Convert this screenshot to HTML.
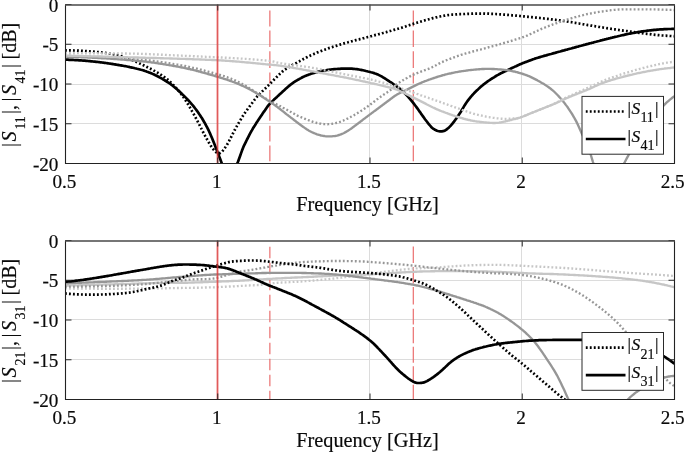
<!DOCTYPE html>
<html lang="en"><head><meta charset="utf-8"><title>S-parameters</title>
<style>
html,body{margin:0;padding:0;background:#fff}
body{width:685px;height:452px;overflow:hidden}
svg{display:block}
text{font-family:"Liberation Serif","Times New Roman",serif;fill:#0a0a0a;stroke:#0a0a0a;stroke-width:0.18px}
.tk{font-size:17.9px}
.xl{font-size:20.3px}
.yl{font-size:20px}
.lg{font-size:17.4px}
.it{font-style:italic}
.sb{font-size:14px}
.sb2{font-size:14px}
</style></head><body>
<svg width="685" height="452" viewBox="0 0 685 452">
<rect width="685" height="452" fill="#fff"/>
<clipPath id="c1"><rect x="65.5" y="4.5" width="609.0" height="159.0"/></clipPath>
<rect x="65.5" y="4.5" width="609.0" height="159.0" fill="#fff"/>
<path d="M65.5 44.50H674.5M65.5 84.50H674.5M65.5 123.50H674.5M217.50 4.5V163.5M369.50 4.5V163.5M521.50 4.5V163.5" stroke="#dcdcdc" stroke-width="1" fill="none"/>
<g clip-path="url(#c1)">
<path d="M269.87 10.6V26.5M269.87 30.4V46.9M269.87 51.3V68.1M269.87 72.4V83.5M269.87 90.0V120.7M269.87 125.7V141.4M269.87 145.6V161.3" stroke="#e96868" stroke-width="1.15" fill="none"/>
<path d="M413.29 10.6V26.5M413.29 30.4V46.9M413.29 51.3V68.1M413.29 72.4V83.5M413.29 90.0V120.7M413.29 125.7V141.4M413.29 145.6V161.3" stroke="#e96868" stroke-width="1.15" fill="none"/>
<path d="M65.0 59.6 L66.0 59.6 L67.0 59.7 L68.0 59.7 L69.0 59.8 L70.0 59.8 L71.0 59.8 L72.0 59.9 L73.0 59.9 L74.0 60.0 L75.0 60.1 L76.0 60.1 L77.0 60.2 L78.0 60.2 L79.0 60.3 L80.0 60.4 L81.0 60.4 L82.0 60.5 L83.0 60.6 L84.0 60.7 L85.0 60.7 L86.0 60.8 L87.0 60.9 L88.0 61.0 L89.0 61.1 L90.0 61.2 L91.0 61.3 L92.0 61.4 L93.0 61.5 L94.0 61.6 L95.0 61.7 L96.0 61.8 L97.0 61.9 L98.0 62.0 L99.0 62.1 L100.0 62.3 L101.0 62.4 L102.0 62.5 L103.0 62.6 L104.0 62.8 L105.0 62.9 L106.0 63.0 L107.0 63.2 L108.0 63.3 L109.0 63.5 L110.0 63.6 L111.0 63.8 L112.0 63.9 L113.0 64.1 L114.0 64.3 L115.0 64.4 L116.0 64.6 L117.0 64.8 L118.0 64.9 L119.0 65.1 L120.0 65.3 L121.0 65.4 L122.0 65.6 L123.0 65.8 L124.0 66.0 L125.0 66.1 L126.0 66.3 L127.0 66.5 L128.0 66.7 L129.0 66.9 L130.0 67.2 L131.0 67.4 L132.0 67.6 L133.0 67.8 L134.0 68.0 L135.0 68.3 L136.0 68.5 L137.0 68.8 L138.0 69.0 L139.0 69.2 L140.0 69.5 L141.0 69.8 L142.0 70.0 L143.0 70.3 L144.0 70.6 L145.0 71.0 L146.0 71.3 L147.0 71.7 L148.0 72.0 L149.0 72.4 L150.0 72.8 L151.0 73.2 L152.0 73.6 L153.0 74.1 L154.0 74.5 L155.0 75.0 L156.0 75.5 L157.0 76.0 L158.0 76.5 L159.0 77.0 L160.0 77.6 L161.0 78.1 L162.0 78.7 L163.0 79.3 L164.0 79.9 L165.0 80.5 L166.0 81.1 L167.0 81.8 L168.0 82.4 L169.0 83.0 L170.0 83.7 L171.0 84.4 L172.0 85.2 L173.0 85.9 L174.0 86.8 L175.0 87.6 L176.0 88.5 L177.0 89.3 L178.0 90.2 L179.0 91.2 L180.0 92.1 L181.0 93.0 L182.0 94.0 L183.0 94.9 L184.0 95.9 L185.0 96.9 L186.0 97.9 L187.0 98.9 L188.0 100.0 L189.0 101.0 L190.0 102.2 L191.0 103.3 L192.0 104.5 L193.0 105.7 L194.0 106.9 L195.0 108.2 L196.0 109.5 L197.0 110.9 L198.0 112.3 L199.0 113.8 L200.0 115.2 L201.0 116.8 L202.0 118.3 L203.0 120.0 L204.0 121.7 L205.0 123.4 L206.0 125.3 L207.0 127.2 L208.0 129.2 L209.0 131.2 L210.0 133.4 L211.0 135.7 L212.0 138.1 L213.0 140.6 L214.0 143.1 L215.0 145.6 L216.0 148.2 L217.0 150.7 L218.0 153.3 L219.0 156.0 L220.0 158.6 L221.0 161.3 L222.0 163.9 L223.0 166.2 L224.0 168.1 L225.0 169.7 L226.0 170.9 L227.0 171.7 L228.0 172.3 L229.0 172.6 L230.0 172.6 L231.0 172.3 L232.0 171.6 L233.0 170.7 L234.0 169.5 L235.0 168.0 L236.0 166.1 L237.0 164.1 L238.0 161.7 L239.0 159.0 L240.0 156.2 L241.0 153.4 L242.0 150.6 L243.0 148.0 L244.0 145.6 L245.0 143.6 L246.0 141.6 L247.0 139.5 L248.0 137.6 L249.0 135.6 L250.0 133.7 L251.0 131.8 L252.0 130.1 L253.0 128.3 L254.0 126.7 L255.0 125.2 L256.0 123.6 L257.0 122.1 L258.0 120.5 L259.0 119.0 L260.0 117.5 L261.0 116.0 L262.0 114.6 L263.0 113.1 L264.0 111.6 L265.0 110.2 L266.0 108.7 L267.0 107.3 L268.0 105.9 L269.0 104.7 L270.0 103.6 L271.0 102.6 L272.0 101.6 L273.0 100.6 L274.0 99.6 L275.0 98.7 L276.0 97.8 L277.0 96.9 L278.0 95.9 L279.0 95.0 L280.0 94.1 L281.0 93.2 L282.0 92.3 L283.0 91.3 L284.0 90.4 L285.0 89.5 L286.0 88.6 L287.0 87.7 L288.0 86.8 L289.0 85.9 L290.0 85.1 L291.0 84.3 L292.0 83.6 L293.0 82.9 L294.0 82.2 L295.0 81.5 L296.0 80.9 L297.0 80.3 L298.0 79.7 L299.0 79.2 L300.0 78.6 L301.0 78.1 L302.0 77.5 L303.0 77.0 L304.0 76.6 L305.0 76.1 L306.0 75.7 L307.0 75.3 L308.0 74.9 L309.0 74.5 L310.0 74.2 L311.0 73.8 L312.0 73.5 L313.0 73.2 L314.0 72.9 L315.0 72.6 L316.0 72.3 L317.0 72.1 L318.0 71.8 L319.0 71.6 L320.0 71.4 L321.0 71.1 L322.0 70.9 L323.0 70.7 L324.0 70.5 L325.0 70.4 L326.0 70.2 L327.0 70.0 L328.0 69.9 L329.0 69.8 L330.0 69.6 L331.0 69.5 L332.0 69.4 L333.0 69.3 L334.0 69.2 L335.0 69.1 L336.0 69.0 L337.0 69.0 L338.0 68.9 L339.0 68.8 L340.0 68.8 L341.0 68.7 L342.0 68.7 L343.0 68.7 L344.0 68.6 L345.0 68.6 L346.0 68.6 L347.0 68.6 L348.0 68.6 L349.0 68.6 L350.0 68.6 L351.0 68.7 L352.0 68.7 L353.0 68.8 L354.0 68.9 L355.0 69.0 L356.0 69.1 L357.0 69.2 L358.0 69.3 L359.0 69.5 L360.0 69.7 L361.0 69.9 L362.0 70.1 L363.0 70.3 L364.0 70.5 L365.0 70.7 L366.0 71.0 L367.0 71.2 L368.0 71.5 L369.0 71.7 L370.0 72.0 L371.0 72.3 L372.0 72.5 L373.0 72.8 L374.0 73.1 L375.0 73.5 L376.0 73.8 L377.0 74.2 L378.0 74.6 L379.0 75.1 L380.0 75.6 L381.0 76.1 L382.0 76.7 L383.0 77.3 L384.0 77.9 L385.0 78.5 L386.0 79.2 L387.0 79.8 L388.0 80.5 L389.0 81.1 L390.0 81.8 L391.0 82.4 L392.0 83.1 L393.0 83.8 L394.0 84.5 L395.0 85.2 L396.0 85.9 L397.0 86.6 L398.0 87.3 L399.0 88.1 L400.0 88.9 L401.0 89.8 L402.0 90.7 L403.0 91.6 L404.0 92.6 L405.0 93.6 L406.0 94.6 L407.0 95.6 L408.0 96.7 L409.0 97.8 L410.0 99.0 L411.0 100.1 L412.0 101.4 L413.0 102.6 L414.0 103.9 L415.0 105.2 L416.0 106.5 L417.0 107.9 L418.0 109.3 L419.0 110.7 L420.0 112.1 L421.0 113.6 L422.0 115.0 L423.0 116.4 L424.0 117.8 L425.0 119.2 L426.0 120.5 L427.0 121.8 L428.0 123.1 L429.0 124.3 L430.0 125.5 L431.0 126.7 L432.0 127.7 L433.0 128.6 L434.0 129.2 L435.0 129.8 L436.0 130.2 L437.0 130.7 L438.0 131.0 L439.0 131.2 L440.0 131.4 L441.0 131.4 L442.0 131.3 L443.0 131.2 L444.0 130.9 L445.0 130.5 L446.0 129.9 L447.0 129.1 L448.0 128.3 L449.0 127.4 L450.0 126.4 L451.0 125.3 L452.0 124.2 L453.0 122.9 L454.0 121.6 L455.0 120.2 L456.0 118.9 L457.0 117.5 L458.0 116.1 L459.0 114.6 L460.0 113.1 L461.0 111.5 L462.0 109.8 L463.0 108.1 L464.0 106.4 L465.0 104.8 L466.0 103.2 L467.0 101.8 L468.0 100.4 L469.0 99.1 L470.0 97.9 L471.0 96.7 L472.0 95.5 L473.0 94.4 L474.0 93.3 L475.0 92.3 L476.0 91.3 L477.0 90.3 L478.0 89.4 L479.0 88.4 L480.0 87.5 L481.0 86.6 L482.0 85.8 L483.0 84.9 L484.0 84.2 L485.0 83.4 L486.0 82.7 L487.0 81.9 L488.0 81.2 L489.0 80.5 L490.0 79.8 L491.0 79.1 L492.0 78.5 L493.0 77.9 L494.0 77.3 L495.0 76.6 L496.0 76.0 L497.0 75.4 L498.0 74.9 L499.0 74.3 L500.0 73.8 L501.0 73.2 L502.0 72.8 L503.0 72.3 L504.0 71.8 L505.0 71.3 L506.0 70.9 L507.0 70.4 L508.0 69.9 L509.0 69.4 L510.0 69.0 L511.0 68.5 L512.0 68.0 L513.0 67.6 L514.0 67.1 L515.0 66.6 L516.0 66.2 L517.0 65.7 L518.0 65.2 L519.0 64.8 L520.0 64.3 L521.0 63.9 L522.0 63.5 L523.0 63.1 L524.0 62.7 L525.0 62.3 L526.0 61.9 L527.0 61.6 L528.0 61.2 L529.0 60.8 L530.0 60.4 L531.0 60.1 L532.0 59.7 L533.0 59.3 L534.0 59.0 L535.0 58.6 L536.0 58.3 L537.0 58.0 L538.0 57.7 L539.0 57.4 L540.0 57.1 L541.0 56.8 L542.0 56.5 L543.0 56.2 L544.0 55.9 L545.0 55.6 L546.0 55.4 L547.0 55.1 L548.0 54.8 L549.0 54.5 L550.0 54.2 L551.0 54.0 L552.0 53.7 L553.0 53.4 L554.0 53.1 L555.0 52.9 L556.0 52.6 L557.0 52.3 L558.0 52.0 L559.0 51.7 L560.0 51.5 L561.0 51.2 L562.0 50.9 L563.0 50.6 L564.0 50.4 L565.0 50.1 L566.0 49.8 L567.0 49.6 L568.0 49.3 L569.0 49.0 L570.0 48.7 L571.0 48.5 L572.0 48.2 L573.0 47.9 L574.0 47.7 L575.0 47.4 L576.0 47.1 L577.0 46.8 L578.0 46.6 L579.0 46.3 L580.0 46.0 L581.0 45.8 L582.0 45.5 L583.0 45.2 L584.0 44.9 L585.0 44.7 L586.0 44.4 L587.0 44.1 L588.0 43.9 L589.0 43.6 L590.0 43.3 L591.0 43.1 L592.0 42.8 L593.0 42.6 L594.0 42.3 L595.0 42.0 L596.0 41.8 L597.0 41.5 L598.0 41.2 L599.0 41.0 L600.0 40.7 L601.0 40.4 L602.0 40.2 L603.0 39.9 L604.0 39.7 L605.0 39.4 L606.0 39.2 L607.0 38.9 L608.0 38.7 L609.0 38.4 L610.0 38.2 L611.0 37.9 L612.0 37.7 L613.0 37.4 L614.0 37.2 L615.0 36.9 L616.0 36.7 L617.0 36.5 L618.0 36.2 L619.0 36.0 L620.0 35.8 L621.0 35.5 L622.0 35.3 L623.0 35.1 L624.0 34.9 L625.0 34.6 L626.0 34.4 L627.0 34.2 L628.0 34.0 L629.0 33.8 L630.0 33.6 L631.0 33.4 L632.0 33.2 L633.0 33.0 L634.0 32.8 L635.0 32.7 L636.0 32.5 L637.0 32.3 L638.0 32.1 L639.0 31.9 L640.0 31.8 L641.0 31.6 L642.0 31.4 L643.0 31.3 L644.0 31.2 L645.0 31.0 L646.0 30.9 L647.0 30.7 L648.0 30.6 L649.0 30.5 L650.0 30.4 L651.0 30.3 L652.0 30.2 L653.0 30.1 L654.0 29.9 L655.0 29.9 L656.0 29.8 L657.0 29.7 L658.0 29.6 L659.0 29.5 L660.0 29.4 L661.0 29.4 L662.0 29.3 L663.0 29.3 L664.0 29.2 L665.0 29.2 L666.0 29.1 L667.0 29.1 L668.0 29.0 L669.0 29.0 L670.0 29.0 L671.0 29.0 L672.0 28.9 L673.0 28.9 L674.0 28.9 L674.5 28.9" fill="none" stroke="#000" stroke-width="2.7" stroke-linejoin="round"/>
<path d="M65.0 50.4 L66.0 50.4 L67.0 50.4 L68.0 50.4 L69.0 50.4 L70.0 50.4 L71.0 50.4 L72.0 50.4 L73.0 50.4 L74.0 50.5 L75.0 50.5 L76.0 50.5 L77.0 50.6 L78.0 50.6 L79.0 50.7 L80.0 50.7 L81.0 50.8 L82.0 50.8 L83.0 50.9 L84.0 50.9 L85.0 51.0 L86.0 51.1 L87.0 51.2 L88.0 51.2 L89.0 51.3 L90.0 51.4 L91.0 51.5 L92.0 51.5 L93.0 51.6 L94.0 51.7 L95.0 51.8 L96.0 51.9 L97.0 52.0 L98.0 52.1 L99.0 52.2 L100.0 52.3 L101.0 52.4 L102.0 52.5 L103.0 52.6 L104.0 52.8 L105.0 52.9 L106.0 53.0 L107.0 53.2 L108.0 53.3 L109.0 53.5 L110.0 53.6 L111.0 53.8 L112.0 54.0 L113.0 54.2 L114.0 54.4 L115.0 54.6 L116.0 54.8 L117.0 55.0 L118.0 55.3 L119.0 55.6 L120.0 55.8 L121.0 56.1 L122.0 56.4 L123.0 56.7 L124.0 57.0 L125.0 57.4 L126.0 57.7 L127.0 58.1 L128.0 58.5 L129.0 58.9 L130.0 59.2 L131.0 59.7 L132.0 60.1 L133.0 60.5 L134.0 60.9 L135.0 61.4 L136.0 61.8 L137.0 62.2 L138.0 62.7 L139.0 63.1 L140.0 63.6 L141.0 64.1 L142.0 64.5 L143.0 65.0 L144.0 65.5 L145.0 66.0 L146.0 66.5 L147.0 67.0 L148.0 67.5 L149.0 68.0 L150.0 68.5 L151.0 69.0 L152.0 69.5 L153.0 70.0 L154.0 70.6 L155.0 71.1 L156.0 71.7 L157.0 72.3 L158.0 72.9 L159.0 73.5 L160.0 74.2 L161.0 74.8 L162.0 75.5 L163.0 76.2 L164.0 76.9 L165.0 77.6 L166.0 78.4 L167.0 79.1 L168.0 79.9 L169.0 80.7 L170.0 81.6 L171.0 82.6 L172.0 83.5 L173.0 84.6 L174.0 85.6 L175.0 86.7 L176.0 87.8 L177.0 88.9 L178.0 90.0 L179.0 91.2 L180.0 92.4 L181.0 93.7 L182.0 95.0 L183.0 96.4 L184.0 97.9 L185.0 99.4 L186.0 101.0 L187.0 102.6 L188.0 104.2 L189.0 105.9 L190.0 107.6 L191.0 109.3 L192.0 111.1 L193.0 112.8 L194.0 114.6 L195.0 116.4 L196.0 118.3 L197.0 120.2 L198.0 122.1 L199.0 124.0 L200.0 126.0 L201.0 128.0 L202.0 129.9 L203.0 131.9 L204.0 133.8 L205.0 135.7 L206.0 137.5 L207.0 139.3 L208.0 141.0 L209.0 142.8 L210.0 144.5 L211.0 146.1 L212.0 147.6 L213.0 148.9 L214.0 150.0 L215.0 151.1 L216.0 152.1 L217.0 152.9 L218.0 153.3 L219.0 153.4 L220.0 153.1 L221.0 152.5 L222.0 151.7 L223.0 150.5 L224.0 149.2 L225.0 147.8 L226.0 146.4 L227.0 144.8 L228.0 143.0 L229.0 141.2 L230.0 139.2 L231.0 137.3 L232.0 135.3 L233.0 133.3 L234.0 131.4 L235.0 129.5 L236.0 127.7 L237.0 125.9 L238.0 124.1 L239.0 122.4 L240.0 120.6 L241.0 119.0 L242.0 117.3 L243.0 115.8 L244.0 114.3 L245.0 112.8 L246.0 111.4 L247.0 110.0 L248.0 108.6 L249.0 107.2 L250.0 105.9 L251.0 104.5 L252.0 103.2 L253.0 101.9 L254.0 100.5 L255.0 99.2 L256.0 97.9 L257.0 96.7 L258.0 95.6 L259.0 94.6 L260.0 93.6 L261.0 92.6 L262.0 91.6 L263.0 90.6 L264.0 89.6 L265.0 88.7 L266.0 87.7 L267.0 86.7 L268.0 85.8 L269.0 84.8 L270.0 83.8 L271.0 82.8 L272.0 81.8 L273.0 80.7 L274.0 79.7 L275.0 78.7 L276.0 77.7 L277.0 76.7 L278.0 75.7 L279.0 74.7 L280.0 73.7 L281.0 72.8 L282.0 71.9 L283.0 71.1 L284.0 70.3 L285.0 69.6 L286.0 68.9 L287.0 68.2 L288.0 67.6 L289.0 67.0 L290.0 66.4 L291.0 65.8 L292.0 65.2 L293.0 64.7 L294.0 64.2 L295.0 63.6 L296.0 63.1 L297.0 62.6 L298.0 62.0 L299.0 61.5 L300.0 60.9 L301.0 60.4 L302.0 59.9 L303.0 59.3 L304.0 58.8 L305.0 58.3 L306.0 57.7 L307.0 57.2 L308.0 56.7 L309.0 56.2 L310.0 55.7 L311.0 55.2 L312.0 54.8 L313.0 54.3 L314.0 53.9 L315.0 53.5 L316.0 53.1 L317.0 52.6 L318.0 52.2 L319.0 51.8 L320.0 51.5 L321.0 51.1 L322.0 50.7 L323.0 50.3 L324.0 49.9 L325.0 49.6 L326.0 49.2 L327.0 48.8 L328.0 48.5 L329.0 48.1 L330.0 47.8 L331.0 47.5 L332.0 47.2 L333.0 46.8 L334.0 46.5 L335.0 46.2 L336.0 45.9 L337.0 45.6 L338.0 45.3 L339.0 44.9 L340.0 44.6 L341.0 44.3 L342.0 44.0 L343.0 43.7 L344.0 43.4 L345.0 43.1 L346.0 42.8 L347.0 42.5 L348.0 42.3 L349.0 42.0 L350.0 41.7 L351.0 41.4 L352.0 41.2 L353.0 40.9 L354.0 40.7 L355.0 40.4 L356.0 40.1 L357.0 39.9 L358.0 39.6 L359.0 39.4 L360.0 39.1 L361.0 38.9 L362.0 38.6 L363.0 38.3 L364.0 38.1 L365.0 37.8 L366.0 37.6 L367.0 37.3 L368.0 37.0 L369.0 36.8 L370.0 36.5 L371.0 36.2 L372.0 36.0 L373.0 35.7 L374.0 35.4 L375.0 35.1 L376.0 34.9 L377.0 34.6 L378.0 34.3 L379.0 34.1 L380.0 33.8 L381.0 33.5 L382.0 33.2 L383.0 33.0 L384.0 32.7 L385.0 32.4 L386.0 32.2 L387.0 31.9 L388.0 31.6 L389.0 31.3 L390.0 31.0 L391.0 30.8 L392.0 30.5 L393.0 30.2 L394.0 29.9 L395.0 29.6 L396.0 29.3 L397.0 29.1 L398.0 28.8 L399.0 28.5 L400.0 28.2 L401.0 27.9 L402.0 27.6 L403.0 27.2 L404.0 26.9 L405.0 26.6 L406.0 26.3 L407.0 25.9 L408.0 25.6 L409.0 25.3 L410.0 24.9 L411.0 24.6 L412.0 24.3 L413.0 24.0 L414.0 23.6 L415.0 23.3 L416.0 23.0 L417.0 22.7 L418.0 22.4 L419.0 22.1 L420.0 21.8 L421.0 21.5 L422.0 21.2 L423.0 20.9 L424.0 20.6 L425.0 20.3 L426.0 20.0 L427.0 19.8 L428.0 19.5 L429.0 19.2 L430.0 18.9 L431.0 18.7 L432.0 18.4 L433.0 18.1 L434.0 17.9 L435.0 17.7 L436.0 17.4 L437.0 17.2 L438.0 16.9 L439.0 16.7 L440.0 16.5 L441.0 16.3 L442.0 16.1 L443.0 15.9 L444.0 15.7 L445.0 15.6 L446.0 15.4 L447.0 15.3 L448.0 15.1 L449.0 15.0 L450.0 14.9 L451.0 14.8 L452.0 14.7 L453.0 14.6 L454.0 14.6 L455.0 14.5 L456.0 14.4 L457.0 14.4 L458.0 14.3 L459.0 14.2 L460.0 14.2 L461.0 14.1 L462.0 14.1 L463.0 14.0 L464.0 14.0 L465.0 14.0 L466.0 13.9 L467.0 13.9 L468.0 13.8 L469.0 13.8 L470.0 13.8 L471.0 13.7 L472.0 13.7 L473.0 13.7 L474.0 13.6 L475.0 13.6 L476.0 13.6 L477.0 13.6 L478.0 13.6 L479.0 13.6 L480.0 13.6 L481.0 13.6 L482.0 13.6 L483.0 13.6 L484.0 13.6 L485.0 13.6 L486.0 13.7 L487.0 13.7 L488.0 13.7 L489.0 13.7 L490.0 13.8 L491.0 13.8 L492.0 13.8 L493.0 13.9 L494.0 13.9 L495.0 14.0 L496.0 14.0 L497.0 14.1 L498.0 14.1 L499.0 14.2 L500.0 14.3 L501.0 14.4 L502.0 14.4 L503.0 14.5 L504.0 14.6 L505.0 14.7 L506.0 14.7 L507.0 14.8 L508.0 14.9 L509.0 15.0 L510.0 15.1 L511.0 15.2 L512.0 15.3 L513.0 15.3 L514.0 15.4 L515.0 15.5 L516.0 15.6 L517.0 15.7 L518.0 15.8 L519.0 15.9 L520.0 16.0 L521.0 16.1 L522.0 16.2 L523.0 16.3 L524.0 16.4 L525.0 16.5 L526.0 16.6 L527.0 16.7 L528.0 16.8 L529.0 16.9 L530.0 17.0 L531.0 17.1 L532.0 17.2 L533.0 17.3 L534.0 17.4 L535.0 17.5 L536.0 17.6 L537.0 17.7 L538.0 17.8 L539.0 17.9 L540.0 18.0 L541.0 18.1 L542.0 18.2 L543.0 18.3 L544.0 18.5 L545.0 18.6 L546.0 18.7 L547.0 18.8 L548.0 18.9 L549.0 19.0 L550.0 19.1 L551.0 19.3 L552.0 19.4 L553.0 19.5 L554.0 19.6 L555.0 19.7 L556.0 19.9 L557.0 20.0 L558.0 20.1 L559.0 20.3 L560.0 20.4 L561.0 20.6 L562.0 20.7 L563.0 20.9 L564.0 21.0 L565.0 21.2 L566.0 21.3 L567.0 21.5 L568.0 21.6 L569.0 21.8 L570.0 22.0 L571.0 22.1 L572.0 22.3 L573.0 22.5 L574.0 22.7 L575.0 22.8 L576.0 23.0 L577.0 23.2 L578.0 23.4 L579.0 23.5 L580.0 23.7 L581.0 23.9 L582.0 24.0 L583.0 24.2 L584.0 24.4 L585.0 24.6 L586.0 24.7 L587.0 24.9 L588.0 25.1 L589.0 25.2 L590.0 25.4 L591.0 25.6 L592.0 25.7 L593.0 25.9 L594.0 26.1 L595.0 26.2 L596.0 26.4 L597.0 26.5 L598.0 26.7 L599.0 26.9 L600.0 27.0 L601.0 27.2 L602.0 27.4 L603.0 27.5 L604.0 27.7 L605.0 27.8 L606.0 28.0 L607.0 28.2 L608.0 28.3 L609.0 28.5 L610.0 28.6 L611.0 28.8 L612.0 28.9 L613.0 29.1 L614.0 29.3 L615.0 29.4 L616.0 29.6 L617.0 29.7 L618.0 29.9 L619.0 30.0 L620.0 30.2 L621.0 30.3 L622.0 30.4 L623.0 30.6 L624.0 30.7 L625.0 30.9 L626.0 31.0 L627.0 31.1 L628.0 31.3 L629.0 31.4 L630.0 31.6 L631.0 31.7 L632.0 31.8 L633.0 32.0 L634.0 32.1 L635.0 32.3 L636.0 32.4 L637.0 32.5 L638.0 32.7 L639.0 32.8 L640.0 32.9 L641.0 33.1 L642.0 33.2 L643.0 33.3 L644.0 33.5 L645.0 33.6 L646.0 33.7 L647.0 33.9 L648.0 34.0 L649.0 34.1 L650.0 34.2 L651.0 34.3 L652.0 34.5 L653.0 34.6 L654.0 34.7 L655.0 34.8 L656.0 34.9 L657.0 35.0 L658.0 35.1 L659.0 35.2 L660.0 35.3 L661.0 35.4 L662.0 35.5 L663.0 35.5 L664.0 35.6 L665.0 35.7 L666.0 35.7 L667.0 35.8 L668.0 35.9 L669.0 35.9 L670.0 36.0 L671.0 36.0 L672.0 36.1 L673.0 36.1 L674.0 36.2 L674.5 36.2" fill="none" stroke="#000" stroke-width="2.7" stroke-dasharray="1.85 2.15" stroke-linejoin="round"/>
<path d="M65.0 56.6 L66.0 56.6 L67.0 56.7 L68.0 56.7 L69.0 56.7 L70.0 56.7 L71.0 56.8 L72.0 56.8 L73.0 56.9 L74.0 56.9 L75.0 56.9 L76.0 57.0 L77.0 57.0 L78.0 57.0 L79.0 57.1 L80.0 57.1 L81.0 57.2 L82.0 57.2 L83.0 57.3 L84.0 57.3 L85.0 57.4 L86.0 57.4 L87.0 57.4 L88.0 57.5 L89.0 57.5 L90.0 57.6 L91.0 57.6 L92.0 57.7 L93.0 57.7 L94.0 57.8 L95.0 57.8 L96.0 57.9 L97.0 57.9 L98.0 58.0 L99.0 58.0 L100.0 58.1 L101.0 58.2 L102.0 58.2 L103.0 58.3 L104.0 58.3 L105.0 58.4 L106.0 58.4 L107.0 58.5 L108.0 58.6 L109.0 58.6 L110.0 58.7 L111.0 58.8 L112.0 58.8 L113.0 58.9 L114.0 59.0 L115.0 59.0 L116.0 59.1 L117.0 59.2 L118.0 59.3 L119.0 59.3 L120.0 59.4 L121.0 59.5 L122.0 59.6 L123.0 59.6 L124.0 59.7 L125.0 59.8 L126.0 59.9 L127.0 60.0 L128.0 60.0 L129.0 60.1 L130.0 60.2 L131.0 60.3 L132.0 60.4 L133.0 60.5 L134.0 60.6 L135.0 60.6 L136.0 60.7 L137.0 60.8 L138.0 60.9 L139.0 61.0 L140.0 61.1 L141.0 61.2 L142.0 61.3 L143.0 61.4 L144.0 61.5 L145.0 61.6 L146.0 61.7 L147.0 61.8 L148.0 62.0 L149.0 62.1 L150.0 62.2 L151.0 62.3 L152.0 62.5 L153.0 62.6 L154.0 62.7 L155.0 62.9 L156.0 63.0 L157.0 63.2 L158.0 63.3 L159.0 63.5 L160.0 63.6 L161.0 63.8 L162.0 63.9 L163.0 64.1 L164.0 64.3 L165.0 64.4 L166.0 64.6 L167.0 64.8 L168.0 64.9 L169.0 65.1 L170.0 65.3 L171.0 65.4 L172.0 65.6 L173.0 65.8 L174.0 66.0 L175.0 66.2 L176.0 66.4 L177.0 66.5 L178.0 66.7 L179.0 66.9 L180.0 67.1 L181.0 67.3 L182.0 67.5 L183.0 67.7 L184.0 67.9 L185.0 68.1 L186.0 68.3 L187.0 68.5 L188.0 68.8 L189.0 69.0 L190.0 69.2 L191.0 69.5 L192.0 69.7 L193.0 69.9 L194.0 70.2 L195.0 70.4 L196.0 70.7 L197.0 71.0 L198.0 71.2 L199.0 71.5 L200.0 71.7 L201.0 72.0 L202.0 72.3 L203.0 72.6 L204.0 72.8 L205.0 73.1 L206.0 73.4 L207.0 73.7 L208.0 74.0 L209.0 74.3 L210.0 74.5 L211.0 74.8 L212.0 75.1 L213.0 75.4 L214.0 75.7 L215.0 76.0 L216.0 76.3 L217.0 76.6 L218.0 76.9 L219.0 77.2 L220.0 77.5 L221.0 77.8 L222.0 78.1 L223.0 78.4 L224.0 78.8 L225.0 79.1 L226.0 79.4 L227.0 79.7 L228.0 80.1 L229.0 80.4 L230.0 80.8 L231.0 81.1 L232.0 81.5 L233.0 81.9 L234.0 82.2 L235.0 82.6 L236.0 83.0 L237.0 83.4 L238.0 83.8 L239.0 84.2 L240.0 84.7 L241.0 85.1 L242.0 85.6 L243.0 86.0 L244.0 86.5 L245.0 86.9 L246.0 87.4 L247.0 87.9 L248.0 88.4 L249.0 88.9 L250.0 89.5 L251.0 90.0 L252.0 90.6 L253.0 91.1 L254.0 91.7 L255.0 92.3 L256.0 92.9 L257.0 93.5 L258.0 94.1 L259.0 94.7 L260.0 95.3 L261.0 95.9 L262.0 96.6 L263.0 97.2 L264.0 97.9 L265.0 98.5 L266.0 99.2 L267.0 99.9 L268.0 100.5 L269.0 101.2 L270.0 101.9 L271.0 102.6 L272.0 103.3 L273.0 103.9 L274.0 104.6 L275.0 105.3 L276.0 106.0 L277.0 106.7 L278.0 107.5 L279.0 108.3 L280.0 109.0 L281.0 109.8 L282.0 110.6 L283.0 111.4 L284.0 112.2 L285.0 113.0 L286.0 113.8 L287.0 114.6 L288.0 115.3 L289.0 116.1 L290.0 116.9 L291.0 117.7 L292.0 118.4 L293.0 119.2 L294.0 120.0 L295.0 120.7 L296.0 121.5 L297.0 122.3 L298.0 123.0 L299.0 123.8 L300.0 124.5 L301.0 125.3 L302.0 126.0 L303.0 126.7 L304.0 127.4 L305.0 128.1 L306.0 128.8 L307.0 129.5 L308.0 130.1 L309.0 130.7 L310.0 131.2 L311.0 131.7 L312.0 132.2 L313.0 132.7 L314.0 133.1 L315.0 133.5 L316.0 133.9 L317.0 134.3 L318.0 134.6 L319.0 134.9 L320.0 135.2 L321.0 135.5 L322.0 135.7 L323.0 135.9 L324.0 136.0 L325.0 136.2 L326.0 136.3 L327.0 136.3 L328.0 136.4 L329.0 136.4 L330.0 136.4 L331.0 136.4 L332.0 136.3 L333.0 136.2 L334.0 136.1 L335.0 136.0 L336.0 135.8 L337.0 135.6 L338.0 135.3 L339.0 135.0 L340.0 134.7 L341.0 134.3 L342.0 133.9 L343.0 133.5 L344.0 133.0 L345.0 132.4 L346.0 131.9 L347.0 131.3 L348.0 130.7 L349.0 130.1 L350.0 129.4 L351.0 128.7 L352.0 128.0 L353.0 127.2 L354.0 126.5 L355.0 125.7 L356.0 125.0 L357.0 124.2 L358.0 123.5 L359.0 122.7 L360.0 122.0 L361.0 121.2 L362.0 120.5 L363.0 119.7 L364.0 118.9 L365.0 118.2 L366.0 117.4 L367.0 116.7 L368.0 115.9 L369.0 115.2 L370.0 114.4 L371.0 113.7 L372.0 112.9 L373.0 112.2 L374.0 111.4 L375.0 110.7 L376.0 110.0 L377.0 109.2 L378.0 108.5 L379.0 107.7 L380.0 107.0 L381.0 106.2 L382.0 105.5 L383.0 104.7 L384.0 104.0 L385.0 103.2 L386.0 102.5 L387.0 101.7 L388.0 101.0 L389.0 100.3 L390.0 99.5 L391.0 98.7 L392.0 98.0 L393.0 97.2 L394.0 96.5 L395.0 95.8 L396.0 95.2 L397.0 94.6 L398.0 94.0 L399.0 93.5 L400.0 93.0 L401.0 92.5 L402.0 92.0 L403.0 91.5 L404.0 91.0 L405.0 90.5 L406.0 90.0 L407.0 89.6 L408.0 89.1 L409.0 88.6 L410.0 88.1 L411.0 87.6 L412.0 87.1 L413.0 86.6 L414.0 86.1 L415.0 85.6 L416.0 85.1 L417.0 84.6 L418.0 84.2 L419.0 83.7 L420.0 83.3 L421.0 82.9 L422.0 82.4 L423.0 82.0 L424.0 81.6 L425.0 81.2 L426.0 80.9 L427.0 80.5 L428.0 80.1 L429.0 79.7 L430.0 79.4 L431.0 79.0 L432.0 78.7 L433.0 78.3 L434.0 78.0 L435.0 77.7 L436.0 77.3 L437.0 77.0 L438.0 76.7 L439.0 76.4 L440.0 76.1 L441.0 75.8 L442.0 75.5 L443.0 75.2 L444.0 75.0 L445.0 74.7 L446.0 74.4 L447.0 74.2 L448.0 73.9 L449.0 73.7 L450.0 73.5 L451.0 73.3 L452.0 73.0 L453.0 72.8 L454.0 72.6 L455.0 72.4 L456.0 72.2 L457.0 72.1 L458.0 71.9 L459.0 71.7 L460.0 71.5 L461.0 71.4 L462.0 71.2 L463.0 71.1 L464.0 70.9 L465.0 70.8 L466.0 70.6 L467.0 70.5 L468.0 70.4 L469.0 70.2 L470.0 70.1 L471.0 70.0 L472.0 69.9 L473.0 69.8 L474.0 69.7 L475.0 69.6 L476.0 69.5 L477.0 69.4 L478.0 69.3 L479.0 69.2 L480.0 69.2 L481.0 69.1 L482.0 69.0 L483.0 69.0 L484.0 69.0 L485.0 68.9 L486.0 68.9 L487.0 68.9 L488.0 68.9 L489.0 68.9 L490.0 68.9 L491.0 68.9 L492.0 69.0 L493.0 69.0 L494.0 69.0 L495.0 69.1 L496.0 69.1 L497.0 69.2 L498.0 69.3 L499.0 69.3 L500.0 69.4 L501.0 69.5 L502.0 69.6 L503.0 69.7 L504.0 69.8 L505.0 69.9 L506.0 70.1 L507.0 70.2 L508.0 70.3 L509.0 70.5 L510.0 70.7 L511.0 70.9 L512.0 71.1 L513.0 71.3 L514.0 71.5 L515.0 71.7 L516.0 72.0 L517.0 72.2 L518.0 72.5 L519.0 72.8 L520.0 73.1 L521.0 73.4 L522.0 73.7 L523.0 74.0 L524.0 74.3 L525.0 74.7 L526.0 75.0 L527.0 75.4 L528.0 75.8 L529.0 76.2 L530.0 76.6 L531.0 77.1 L532.0 77.6 L533.0 78.1 L534.0 78.6 L535.0 79.1 L536.0 79.6 L537.0 80.1 L538.0 80.7 L539.0 81.2 L540.0 81.8 L541.0 82.4 L542.0 83.0 L543.0 83.5 L544.0 84.1 L545.0 84.8 L546.0 85.4 L547.0 86.1 L548.0 86.8 L549.0 87.5 L550.0 88.2 L551.0 89.0 L552.0 89.8 L553.0 90.6 L554.0 91.5 L555.0 92.5 L556.0 93.5 L557.0 94.5 L558.0 95.5 L559.0 96.6 L560.0 97.7 L561.0 98.8 L562.0 100.0 L563.0 101.2 L564.0 102.4 L565.0 103.7 L566.0 105.1 L567.0 106.4 L568.0 107.8 L569.0 109.3 L570.0 110.8 L571.0 112.3 L572.0 113.9 L573.0 115.6 L574.0 117.3 L575.0 119.1 L576.0 120.9 L577.0 122.9 L578.0 125.0 L579.0 127.2 L580.0 129.5 L581.0 131.8 L582.0 134.1 L583.0 136.3 L584.0 138.5 L585.0 140.7 L586.0 142.8 L587.0 145.0 L588.0 147.3 L589.0 149.6 L590.0 152.3 L591.0 155.5 L592.0 158.9 L593.0 162.1 L594.0 165.0 L595.0 167.8 L596.0 170.6 L597.0 173.2 L598.0 175.7 L599.0 178.2 L600.0 180.6 L601.0 182.8 L602.0 184.8 L603.0 186.5 L604.0 187.9 L605.0 189.0 L606.0 189.8 L607.0 190.4 L608.0 190.6 L609.0 190.5 L610.0 190.2 L611.0 189.5 L612.0 188.7 L613.0 187.5 L614.0 186.1 L615.0 184.5 L616.0 182.7 L617.0 180.6 L618.0 178.3 L619.0 175.8 L620.0 173.2 L621.0 170.6 L622.0 168.0 L623.0 165.7 L624.0 163.6 L625.0 161.7 L626.0 159.8 L627.0 157.9 L628.0 156.1 L629.0 154.3 L630.0 152.6 L631.0 150.9 L632.0 149.3 L633.0 147.6 L634.0 146.0 L635.0 144.4 L636.0 142.7 L637.0 141.2 L638.0 139.6 L639.0 138.1 L640.0 136.6 L641.0 135.1 L642.0 133.7 L643.0 132.3 L644.0 130.9 L645.0 129.5 L646.0 128.1 L647.0 126.7 L648.0 125.3 L649.0 124.0 L650.0 122.6 L651.0 121.2 L652.0 119.9 L653.0 118.6 L654.0 117.2 L655.0 115.9 L656.0 114.6 L657.0 113.3 L658.0 112.1 L659.0 110.8 L660.0 109.6 L661.0 108.4 L662.0 107.3 L663.0 106.2 L664.0 105.1 L665.0 104.1 L666.0 103.1 L667.0 102.2 L668.0 101.3 L669.0 100.5 L670.0 99.6 L671.0 98.8 L672.0 98.0 L673.0 97.2 L674.0 96.5 L674.5 96.1" fill="none" stroke="#969696" stroke-width="2.35" stroke-linejoin="round"/>
<path d="M65.0 55.6 L66.0 55.6 L67.0 55.7 L68.0 55.7 L69.0 55.7 L70.0 55.8 L71.0 55.8 L72.0 55.9 L73.0 55.9 L74.0 55.9 L75.0 56.0 L76.0 56.0 L77.0 56.1 L78.0 56.1 L79.0 56.1 L80.0 56.2 L81.0 56.2 L82.0 56.3 L83.0 56.3 L84.0 56.4 L85.0 56.4 L86.0 56.4 L87.0 56.5 L88.0 56.5 L89.0 56.6 L90.0 56.6 L91.0 56.7 L92.0 56.7 L93.0 56.8 L94.0 56.8 L95.0 56.9 L96.0 56.9 L97.0 57.0 L98.0 57.0 L99.0 57.1 L100.0 57.1 L101.0 57.1 L102.0 57.2 L103.0 57.2 L104.0 57.3 L105.0 57.3 L106.0 57.4 L107.0 57.5 L108.0 57.5 L109.0 57.6 L110.0 57.6 L111.0 57.7 L112.0 57.7 L113.0 57.8 L114.0 57.8 L115.0 57.9 L116.0 58.0 L117.0 58.0 L118.0 58.1 L119.0 58.2 L120.0 58.2 L121.0 58.3 L122.0 58.3 L123.0 58.4 L124.0 58.5 L125.0 58.5 L126.0 58.6 L127.0 58.7 L128.0 58.7 L129.0 58.8 L130.0 58.9 L131.0 58.9 L132.0 59.0 L133.0 59.1 L134.0 59.2 L135.0 59.2 L136.0 59.3 L137.0 59.4 L138.0 59.5 L139.0 59.5 L140.0 59.6 L141.0 59.7 L142.0 59.8 L143.0 59.8 L144.0 59.9 L145.0 60.0 L146.0 60.1 L147.0 60.2 L148.0 60.3 L149.0 60.4 L150.0 60.5 L151.0 60.7 L152.0 60.8 L153.0 60.9 L154.0 61.0 L155.0 61.2 L156.0 61.3 L157.0 61.4 L158.0 61.6 L159.0 61.7 L160.0 61.8 L161.0 62.0 L162.0 62.1 L163.0 62.3 L164.0 62.4 L165.0 62.6 L166.0 62.7 L167.0 62.9 L168.0 63.1 L169.0 63.2 L170.0 63.4 L171.0 63.6 L172.0 63.7 L173.0 63.9 L174.0 64.1 L175.0 64.2 L176.0 64.4 L177.0 64.6 L178.0 64.7 L179.0 64.9 L180.0 65.1 L181.0 65.3 L182.0 65.5 L183.0 65.7 L184.0 65.8 L185.0 66.0 L186.0 66.2 L187.0 66.5 L188.0 66.7 L189.0 66.9 L190.0 67.1 L191.0 67.3 L192.0 67.5 L193.0 67.8 L194.0 68.0 L195.0 68.2 L196.0 68.5 L197.0 68.7 L198.0 69.0 L199.0 69.2 L200.0 69.5 L201.0 69.7 L202.0 70.0 L203.0 70.3 L204.0 70.5 L205.0 70.8 L206.0 71.1 L207.0 71.3 L208.0 71.6 L209.0 71.9 L210.0 72.1 L211.0 72.4 L212.0 72.7 L213.0 73.0 L214.0 73.3 L215.0 73.5 L216.0 73.8 L217.0 74.1 L218.0 74.4 L219.0 74.7 L220.0 75.0 L221.0 75.3 L222.0 75.6 L223.0 75.9 L224.0 76.2 L225.0 76.5 L226.0 76.9 L227.0 77.2 L228.0 77.6 L229.0 77.9 L230.0 78.3 L231.0 78.7 L232.0 79.1 L233.0 79.5 L234.0 79.9 L235.0 80.3 L236.0 80.8 L237.0 81.2 L238.0 81.7 L239.0 82.2 L240.0 82.7 L241.0 83.2 L242.0 83.8 L243.0 84.3 L244.0 84.9 L245.0 85.5 L246.0 86.1 L247.0 86.7 L248.0 87.3 L249.0 87.9 L250.0 88.5 L251.0 89.2 L252.0 89.8 L253.0 90.5 L254.0 91.1 L255.0 91.8 L256.0 92.4 L257.0 93.1 L258.0 93.7 L259.0 94.4 L260.0 95.0 L261.0 95.6 L262.0 96.3 L263.0 96.9 L264.0 97.5 L265.0 98.1 L266.0 98.7 L267.0 99.3 L268.0 99.8 L269.0 100.4 L270.0 100.9 L271.0 101.4 L272.0 101.9 L273.0 102.4 L274.0 102.9 L275.0 103.4 L276.0 103.9 L277.0 104.5 L278.0 105.0 L279.0 105.5 L280.0 106.0 L281.0 106.6 L282.0 107.1 L283.0 107.7 L284.0 108.2 L285.0 108.7 L286.0 109.3 L287.0 109.8 L288.0 110.4 L289.0 110.9 L290.0 111.5 L291.0 112.0 L292.0 112.6 L293.0 113.2 L294.0 113.7 L295.0 114.3 L296.0 114.8 L297.0 115.4 L298.0 115.9 L299.0 116.3 L300.0 116.8 L301.0 117.2 L302.0 117.6 L303.0 118.0 L304.0 118.4 L305.0 118.8 L306.0 119.2 L307.0 119.6 L308.0 120.0 L309.0 120.4 L310.0 120.8 L311.0 121.1 L312.0 121.5 L313.0 121.8 L314.0 122.1 L315.0 122.4 L316.0 122.7 L317.0 123.0 L318.0 123.2 L319.0 123.4 L320.0 123.6 L321.0 123.7 L322.0 123.9 L323.0 124.0 L324.0 124.1 L325.0 124.2 L326.0 124.2 L327.0 124.2 L328.0 124.2 L329.0 124.1 L330.0 124.0 L331.0 123.9 L332.0 123.8 L333.0 123.6 L334.0 123.4 L335.0 123.2 L336.0 123.0 L337.0 122.7 L338.0 122.4 L339.0 122.1 L340.0 121.8 L341.0 121.4 L342.0 121.0 L343.0 120.7 L344.0 120.2 L345.0 119.8 L346.0 119.3 L347.0 118.8 L348.0 118.4 L349.0 117.9 L350.0 117.3 L351.0 116.8 L352.0 116.3 L353.0 115.7 L354.0 115.2 L355.0 114.6 L356.0 114.0 L357.0 113.4 L358.0 112.8 L359.0 112.2 L360.0 111.6 L361.0 110.9 L362.0 110.3 L363.0 109.6 L364.0 108.9 L365.0 108.3 L366.0 107.6 L367.0 106.9 L368.0 106.2 L369.0 105.5 L370.0 104.7 L371.0 104.0 L372.0 103.3 L373.0 102.5 L374.0 101.7 L375.0 101.0 L376.0 100.2 L377.0 99.4 L378.0 98.7 L379.0 97.9 L380.0 97.2 L381.0 96.5 L382.0 95.8 L383.0 95.1 L384.0 94.4 L385.0 93.8 L386.0 93.1 L387.0 92.5 L388.0 91.8 L389.0 91.1 L390.0 90.4 L391.0 89.6 L392.0 88.7 L393.0 87.8 L394.0 86.8 L395.0 85.9 L396.0 84.9 L397.0 84.1 L398.0 83.4 L399.0 82.7 L400.0 82.1 L401.0 81.4 L402.0 80.8 L403.0 80.2 L404.0 79.6 L405.0 79.1 L406.0 78.5 L407.0 78.0 L408.0 77.4 L409.0 76.9 L410.0 76.4 L411.0 75.9 L412.0 75.5 L413.0 75.0 L414.0 74.5 L415.0 74.1 L416.0 73.6 L417.0 73.2 L418.0 72.8 L419.0 72.4 L420.0 72.0 L421.0 71.6 L422.0 71.2 L423.0 70.9 L424.0 70.5 L425.0 70.1 L426.0 69.7 L427.0 69.3 L428.0 69.0 L429.0 68.6 L430.0 68.1 L431.0 67.7 L432.0 67.3 L433.0 66.8 L434.0 66.4 L435.0 65.8 L436.0 65.3 L437.0 64.7 L438.0 64.2 L439.0 63.6 L440.0 63.1 L441.0 62.6 L442.0 62.1 L443.0 61.7 L444.0 61.3 L445.0 60.8 L446.0 60.4 L447.0 60.0 L448.0 59.6 L449.0 59.2 L450.0 58.8 L451.0 58.5 L452.0 58.1 L453.0 57.7 L454.0 57.3 L455.0 57.0 L456.0 56.6 L457.0 56.3 L458.0 55.9 L459.0 55.6 L460.0 55.3 L461.0 54.9 L462.0 54.6 L463.0 54.3 L464.0 54.0 L465.0 53.7 L466.0 53.4 L467.0 53.1 L468.0 52.9 L469.0 52.6 L470.0 52.3 L471.0 52.0 L472.0 51.8 L473.0 51.5 L474.0 51.2 L475.0 51.0 L476.0 50.7 L477.0 50.4 L478.0 50.2 L479.0 49.9 L480.0 49.6 L481.0 49.4 L482.0 49.1 L483.0 48.9 L484.0 48.6 L485.0 48.3 L486.0 48.1 L487.0 47.8 L488.0 47.5 L489.0 47.2 L490.0 47.0 L491.0 46.7 L492.0 46.4 L493.0 46.1 L494.0 45.9 L495.0 45.6 L496.0 45.3 L497.0 45.0 L498.0 44.7 L499.0 44.4 L500.0 44.2 L501.0 43.9 L502.0 43.6 L503.0 43.3 L504.0 43.0 L505.0 42.7 L506.0 42.4 L507.0 42.2 L508.0 41.9 L509.0 41.6 L510.0 41.3 L511.0 41.0 L512.0 40.7 L513.0 40.4 L514.0 40.0 L515.0 39.7 L516.0 39.4 L517.0 39.1 L518.0 38.8 L519.0 38.5 L520.0 38.1 L521.0 37.8 L522.0 37.5 L523.0 37.1 L524.0 36.8 L525.0 36.4 L526.0 36.0 L527.0 35.6 L528.0 35.1 L529.0 34.7 L530.0 34.2 L531.0 33.8 L532.0 33.3 L533.0 32.8 L534.0 32.4 L535.0 31.9 L536.0 31.4 L537.0 31.0 L538.0 30.5 L539.0 30.0 L540.0 29.6 L541.0 29.1 L542.0 28.7 L543.0 28.3 L544.0 27.9 L545.0 27.5 L546.0 27.1 L547.0 26.7 L548.0 26.3 L549.0 25.9 L550.0 25.6 L551.0 25.2 L552.0 24.8 L553.0 24.4 L554.0 24.1 L555.0 23.7 L556.0 23.3 L557.0 23.0 L558.0 22.6 L559.0 22.3 L560.0 21.9 L561.0 21.6 L562.0 21.3 L563.0 20.9 L564.0 20.6 L565.0 20.3 L566.0 19.9 L567.0 19.6 L568.0 19.3 L569.0 19.0 L570.0 18.7 L571.0 18.4 L572.0 18.1 L573.0 17.8 L574.0 17.5 L575.0 17.2 L576.0 17.0 L577.0 16.7 L578.0 16.4 L579.0 16.2 L580.0 15.9 L581.0 15.6 L582.0 15.4 L583.0 15.2 L584.0 14.9 L585.0 14.7 L586.0 14.5 L587.0 14.2 L588.0 14.0 L589.0 13.8 L590.0 13.6 L591.0 13.4 L592.0 13.2 L593.0 13.0 L594.0 12.8 L595.0 12.6 L596.0 12.4 L597.0 12.3 L598.0 12.1 L599.0 11.9 L600.0 11.8 L601.0 11.6 L602.0 11.5 L603.0 11.3 L604.0 11.2 L605.0 11.0 L606.0 10.9 L607.0 10.8 L608.0 10.6 L609.0 10.5 L610.0 10.4 L611.0 10.2 L612.0 10.1 L613.0 10.0 L614.0 9.9 L615.0 9.8 L616.0 9.7 L617.0 9.7 L618.0 9.6 L619.0 9.5 L620.0 9.5 L621.0 9.5 L622.0 9.4 L623.0 9.4 L624.0 9.4 L625.0 9.4 L626.0 9.4 L627.0 9.3 L628.0 9.3 L629.0 9.3 L630.0 9.3 L631.0 9.3 L632.0 9.3 L633.0 9.3 L634.0 9.3 L635.0 9.3 L636.0 9.3 L637.0 9.3 L638.0 9.3 L639.0 9.3 L640.0 9.3 L641.0 9.3 L642.0 9.3 L643.0 9.3 L644.0 9.3 L645.0 9.3 L646.0 9.3 L647.0 9.3 L648.0 9.4 L649.0 9.4 L650.0 9.4 L651.0 9.4 L652.0 9.4 L653.0 9.4 L654.0 9.4 L655.0 9.4 L656.0 9.4 L657.0 9.5 L658.0 9.5 L659.0 9.5 L660.0 9.5 L661.0 9.5 L662.0 9.6 L663.0 9.6 L664.0 9.6 L665.0 9.7 L666.0 9.7 L667.0 9.7 L668.0 9.7 L669.0 9.8 L670.0 9.8 L671.0 9.9 L672.0 9.9 L673.0 9.9 L674.0 10.0 L674.5 10.0" fill="none" stroke="#969696" stroke-width="2.35" stroke-dasharray="1.85 2.15" stroke-linejoin="round"/>
<path d="M65.0 55.6 L66.0 55.6 L67.0 55.6 L68.0 55.7 L69.0 55.7 L70.0 55.7 L71.0 55.7 L72.0 55.8 L73.0 55.8 L74.0 55.8 L75.0 55.8 L76.0 55.9 L77.0 55.9 L78.0 55.9 L79.0 55.9 L80.0 56.0 L81.0 56.0 L82.0 56.0 L83.0 56.0 L84.0 56.1 L85.0 56.1 L86.0 56.1 L87.0 56.1 L88.0 56.2 L89.0 56.2 L90.0 56.2 L91.0 56.3 L92.0 56.3 L93.0 56.3 L94.0 56.3 L95.0 56.4 L96.0 56.4 L97.0 56.4 L98.0 56.4 L99.0 56.5 L100.0 56.5 L101.0 56.5 L102.0 56.5 L103.0 56.6 L104.0 56.6 L105.0 56.6 L106.0 56.7 L107.0 56.7 L108.0 56.7 L109.0 56.7 L110.0 56.8 L111.0 56.8 L112.0 56.8 L113.0 56.9 L114.0 56.9 L115.0 56.9 L116.0 56.9 L117.0 57.0 L118.0 57.0 L119.0 57.0 L120.0 57.0 L121.0 57.1 L122.0 57.1 L123.0 57.1 L124.0 57.2 L125.0 57.2 L126.0 57.2 L127.0 57.2 L128.0 57.3 L129.0 57.3 L130.0 57.3 L131.0 57.4 L132.0 57.4 L133.0 57.4 L134.0 57.4 L135.0 57.5 L136.0 57.5 L137.0 57.5 L138.0 57.5 L139.0 57.6 L140.0 57.6 L141.0 57.6 L142.0 57.7 L143.0 57.7 L144.0 57.7 L145.0 57.7 L146.0 57.8 L147.0 57.8 L148.0 57.8 L149.0 57.8 L150.0 57.9 L151.0 57.9 L152.0 57.9 L153.0 58.0 L154.0 58.0 L155.0 58.0 L156.0 58.0 L157.0 58.1 L158.0 58.1 L159.0 58.1 L160.0 58.2 L161.0 58.2 L162.0 58.2 L163.0 58.2 L164.0 58.3 L165.0 58.3 L166.0 58.3 L167.0 58.4 L168.0 58.4 L169.0 58.4 L170.0 58.5 L171.0 58.5 L172.0 58.5 L173.0 58.6 L174.0 58.6 L175.0 58.6 L176.0 58.6 L177.0 58.7 L178.0 58.7 L179.0 58.7 L180.0 58.8 L181.0 58.8 L182.0 58.8 L183.0 58.9 L184.0 58.9 L185.0 58.9 L186.0 59.0 L187.0 59.0 L188.0 59.0 L189.0 59.1 L190.0 59.1 L191.0 59.1 L192.0 59.2 L193.0 59.2 L194.0 59.3 L195.0 59.3 L196.0 59.3 L197.0 59.4 L198.0 59.4 L199.0 59.4 L200.0 59.5 L201.0 59.5 L202.0 59.6 L203.0 59.6 L204.0 59.6 L205.0 59.7 L206.0 59.7 L207.0 59.8 L208.0 59.8 L209.0 59.8 L210.0 59.9 L211.0 59.9 L212.0 60.0 L213.0 60.0 L214.0 60.1 L215.0 60.1 L216.0 60.1 L217.0 60.2 L218.0 60.2 L219.0 60.3 L220.0 60.4 L221.0 60.4 L222.0 60.5 L223.0 60.5 L224.0 60.6 L225.0 60.7 L226.0 60.7 L227.0 60.8 L228.0 60.9 L229.0 60.9 L230.0 61.0 L231.0 61.1 L232.0 61.2 L233.0 61.2 L234.0 61.3 L235.0 61.4 L236.0 61.5 L237.0 61.6 L238.0 61.6 L239.0 61.7 L240.0 61.8 L241.0 61.9 L242.0 62.0 L243.0 62.1 L244.0 62.2 L245.0 62.3 L246.0 62.4 L247.0 62.5 L248.0 62.5 L249.0 62.6 L250.0 62.7 L251.0 62.8 L252.0 62.9 L253.0 63.0 L254.0 63.1 L255.0 63.2 L256.0 63.3 L257.0 63.4 L258.0 63.5 L259.0 63.6 L260.0 63.7 L261.0 63.8 L262.0 63.9 L263.0 64.0 L264.0 64.1 L265.0 64.2 L266.0 64.3 L267.0 64.4 L268.0 64.5 L269.0 64.5 L270.0 64.6 L271.0 64.7 L272.0 64.8 L273.0 64.9 L274.0 65.0 L275.0 65.1 L276.0 65.2 L277.0 65.3 L278.0 65.4 L279.0 65.6 L280.0 65.7 L281.0 65.8 L282.0 66.0 L283.0 66.1 L284.0 66.3 L285.0 66.5 L286.0 66.6 L287.0 66.8 L288.0 66.9 L289.0 67.1 L290.0 67.3 L291.0 67.4 L292.0 67.6 L293.0 67.8 L294.0 68.0 L295.0 68.1 L296.0 68.3 L297.0 68.5 L298.0 68.7 L299.0 68.8 L300.0 69.0 L301.0 69.2 L302.0 69.4 L303.0 69.6 L304.0 69.8 L305.0 69.9 L306.0 70.1 L307.0 70.3 L308.0 70.5 L309.0 70.7 L310.0 70.9 L311.0 71.1 L312.0 71.3 L313.0 71.4 L314.0 71.6 L315.0 71.8 L316.0 72.0 L317.0 72.2 L318.0 72.4 L319.0 72.6 L320.0 72.8 L321.0 73.0 L322.0 73.1 L323.0 73.3 L324.0 73.5 L325.0 73.7 L326.0 73.9 L327.0 74.1 L328.0 74.3 L329.0 74.5 L330.0 74.6 L331.0 74.8 L332.0 75.0 L333.0 75.2 L334.0 75.4 L335.0 75.6 L336.0 75.8 L337.0 76.0 L338.0 76.2 L339.0 76.4 L340.0 76.6 L341.0 76.8 L342.0 76.9 L343.0 77.1 L344.0 77.3 L345.0 77.5 L346.0 77.7 L347.0 77.9 L348.0 78.1 L349.0 78.3 L350.0 78.5 L351.0 78.7 L352.0 78.9 L353.0 79.2 L354.0 79.4 L355.0 79.6 L356.0 79.8 L357.0 80.0 L358.0 80.2 L359.0 80.4 L360.0 80.6 L361.0 80.9 L362.0 81.1 L363.0 81.3 L364.0 81.5 L365.0 81.7 L366.0 82.0 L367.0 82.2 L368.0 82.4 L369.0 82.6 L370.0 82.8 L371.0 83.1 L372.0 83.3 L373.0 83.5 L374.0 83.7 L375.0 84.0 L376.0 84.2 L377.0 84.4 L378.0 84.7 L379.0 84.9 L380.0 85.1 L381.0 85.4 L382.0 85.6 L383.0 85.8 L384.0 86.1 L385.0 86.3 L386.0 86.6 L387.0 86.8 L388.0 87.0 L389.0 87.3 L390.0 87.5 L391.0 87.8 L392.0 88.1 L393.0 88.4 L394.0 88.7 L395.0 89.0 L396.0 89.3 L397.0 89.7 L398.0 90.1 L399.0 90.5 L400.0 91.0 L401.0 91.5 L402.0 92.0 L403.0 92.4 L404.0 92.9 L405.0 93.4 L406.0 93.9 L407.0 94.4 L408.0 94.9 L409.0 95.4 L410.0 95.9 L411.0 96.4 L412.0 96.9 L413.0 97.4 L414.0 97.9 L415.0 98.4 L416.0 98.9 L417.0 99.4 L418.0 99.9 L419.0 100.4 L420.0 100.9 L421.0 101.4 L422.0 101.9 L423.0 102.4 L424.0 102.9 L425.0 103.4 L426.0 103.9 L427.0 104.5 L428.0 105.0 L429.0 105.5 L430.0 106.0 L431.0 106.5 L432.0 107.0 L433.0 107.5 L434.0 107.9 L435.0 108.4 L436.0 108.9 L437.0 109.3 L438.0 109.7 L439.0 110.2 L440.0 110.6 L441.0 111.0 L442.0 111.4 L443.0 111.7 L444.0 112.1 L445.0 112.5 L446.0 112.9 L447.0 113.2 L448.0 113.6 L449.0 114.0 L450.0 114.3 L451.0 114.7 L452.0 115.0 L453.0 115.4 L454.0 115.7 L455.0 116.1 L456.0 116.4 L457.0 116.7 L458.0 117.0 L459.0 117.3 L460.0 117.6 L461.0 117.9 L462.0 118.2 L463.0 118.5 L464.0 118.8 L465.0 119.0 L466.0 119.3 L467.0 119.5 L468.0 119.8 L469.0 120.0 L470.0 120.2 L471.0 120.5 L472.0 120.6 L473.0 120.8 L474.0 121.0 L475.0 121.2 L476.0 121.3 L477.0 121.5 L478.0 121.6 L479.0 121.7 L480.0 121.9 L481.0 122.0 L482.0 122.1 L483.0 122.2 L484.0 122.3 L485.0 122.4 L486.0 122.5 L487.0 122.6 L488.0 122.7 L489.0 122.7 L490.0 122.8 L491.0 122.9 L492.0 122.9 L493.0 123.0 L494.0 123.0 L495.0 123.0 L496.0 122.9 L497.0 122.9 L498.0 122.8 L499.0 122.7 L500.0 122.5 L501.0 122.3 L502.0 122.1 L503.0 121.9 L504.0 121.7 L505.0 121.5 L506.0 121.2 L507.0 121.0 L508.0 120.7 L509.0 120.5 L510.0 120.2 L511.0 120.0 L512.0 119.7 L513.0 119.4 L514.0 119.2 L515.0 119.0 L516.0 118.7 L517.0 118.5 L518.0 118.2 L519.0 117.9 L520.0 117.6 L521.0 117.2 L522.0 116.9 L523.0 116.5 L524.0 116.1 L525.0 115.7 L526.0 115.3 L527.0 114.9 L528.0 114.4 L529.0 114.0 L530.0 113.6 L531.0 113.2 L532.0 112.8 L533.0 112.4 L534.0 112.0 L535.0 111.6 L536.0 111.2 L537.0 110.8 L538.0 110.4 L539.0 110.0 L540.0 109.6 L541.0 109.2 L542.0 108.8 L543.0 108.4 L544.0 108.0 L545.0 107.6 L546.0 107.2 L547.0 106.8 L548.0 106.4 L549.0 106.0 L550.0 105.6 L551.0 105.2 L552.0 104.8 L553.0 104.4 L554.0 104.0 L555.0 103.5 L556.0 103.1 L557.0 102.6 L558.0 102.2 L559.0 101.7 L560.0 101.3 L561.0 100.8 L562.0 100.3 L563.0 99.9 L564.0 99.4 L565.0 98.9 L566.0 98.5 L567.0 98.0 L568.0 97.6 L569.0 97.2 L570.0 96.7 L571.0 96.3 L572.0 95.9 L573.0 95.5 L574.0 95.1 L575.0 94.7 L576.0 94.3 L577.0 93.9 L578.0 93.5 L579.0 93.1 L580.0 92.7 L581.0 92.3 L582.0 91.9 L583.0 91.5 L584.0 91.1 L585.0 90.7 L586.0 90.3 L587.0 89.9 L588.0 89.5 L589.0 89.1 L590.0 88.6 L591.0 88.2 L592.0 87.7 L593.0 87.2 L594.0 86.8 L595.0 86.3 L596.0 85.8 L597.0 85.4 L598.0 84.9 L599.0 84.5 L600.0 84.1 L601.0 83.7 L602.0 83.3 L603.0 82.9 L604.0 82.5 L605.0 82.2 L606.0 81.8 L607.0 81.5 L608.0 81.1 L609.0 80.8 L610.0 80.5 L611.0 80.2 L612.0 79.8 L613.0 79.5 L614.0 79.3 L615.0 79.0 L616.0 78.7 L617.0 78.4 L618.0 78.1 L619.0 77.9 L620.0 77.6 L621.0 77.3 L622.0 77.1 L623.0 76.8 L624.0 76.5 L625.0 76.3 L626.0 76.0 L627.0 75.8 L628.0 75.5 L629.0 75.3 L630.0 75.0 L631.0 74.8 L632.0 74.6 L633.0 74.3 L634.0 74.1 L635.0 73.9 L636.0 73.7 L637.0 73.4 L638.0 73.2 L639.0 73.0 L640.0 72.8 L641.0 72.6 L642.0 72.4 L643.0 72.2 L644.0 72.0 L645.0 71.8 L646.0 71.6 L647.0 71.4 L648.0 71.2 L649.0 71.0 L650.0 70.8 L651.0 70.6 L652.0 70.5 L653.0 70.3 L654.0 70.1 L655.0 70.0 L656.0 69.8 L657.0 69.6 L658.0 69.5 L659.0 69.3 L660.0 69.2 L661.0 69.1 L662.0 68.9 L663.0 68.8 L664.0 68.7 L665.0 68.5 L666.0 68.4 L667.0 68.3 L668.0 68.2 L669.0 68.1 L670.0 68.0 L671.0 67.8 L672.0 67.7 L673.0 67.6 L674.0 67.5 L674.5 67.5" fill="none" stroke="#c6c6c6" stroke-width="2.35" stroke-linejoin="round"/>
<path d="M65.0 53.1 L66.0 53.1 L67.0 53.1 L68.0 53.1 L69.0 53.1 L70.0 53.1 L71.0 53.1 L72.0 53.1 L73.0 53.1 L74.0 53.1 L75.0 53.1 L76.0 53.1 L77.0 53.1 L78.0 53.1 L79.0 53.1 L80.0 53.1 L81.0 53.1 L82.0 53.1 L83.0 53.1 L84.0 53.2 L85.0 53.2 L86.0 53.2 L87.0 53.2 L88.0 53.2 L89.0 53.2 L90.0 53.2 L91.0 53.2 L92.0 53.2 L93.0 53.2 L94.0 53.2 L95.0 53.2 L96.0 53.2 L97.0 53.2 L98.0 53.3 L99.0 53.3 L100.0 53.3 L101.0 53.3 L102.0 53.3 L103.0 53.3 L104.0 53.3 L105.0 53.3 L106.0 53.3 L107.0 53.3 L108.0 53.3 L109.0 53.4 L110.0 53.4 L111.0 53.4 L112.0 53.4 L113.0 53.4 L114.0 53.4 L115.0 53.4 L116.0 53.4 L117.0 53.4 L118.0 53.4 L119.0 53.5 L120.0 53.5 L121.0 53.5 L122.0 53.5 L123.0 53.5 L124.0 53.5 L125.0 53.5 L126.0 53.5 L127.0 53.5 L128.0 53.6 L129.0 53.6 L130.0 53.6 L131.0 53.6 L132.0 53.6 L133.0 53.6 L134.0 53.6 L135.0 53.7 L136.0 53.7 L137.0 53.7 L138.0 53.7 L139.0 53.8 L140.0 53.8 L141.0 53.8 L142.0 53.8 L143.0 53.9 L144.0 53.9 L145.0 54.0 L146.0 54.0 L147.0 54.0 L148.0 54.1 L149.0 54.1 L150.0 54.2 L151.0 54.2 L152.0 54.3 L153.0 54.3 L154.0 54.4 L155.0 54.4 L156.0 54.4 L157.0 54.5 L158.0 54.5 L159.0 54.6 L160.0 54.6 L161.0 54.7 L162.0 54.7 L163.0 54.8 L164.0 54.8 L165.0 54.9 L166.0 54.9 L167.0 55.0 L168.0 55.0 L169.0 55.1 L170.0 55.1 L171.0 55.1 L172.0 55.2 L173.0 55.2 L174.0 55.3 L175.0 55.3 L176.0 55.4 L177.0 55.4 L178.0 55.5 L179.0 55.5 L180.0 55.6 L181.0 55.6 L182.0 55.7 L183.0 55.7 L184.0 55.8 L185.0 55.8 L186.0 55.8 L187.0 55.9 L188.0 55.9 L189.0 56.0 L190.0 56.0 L191.0 56.1 L192.0 56.1 L193.0 56.2 L194.0 56.2 L195.0 56.3 L196.0 56.3 L197.0 56.4 L198.0 56.4 L199.0 56.5 L200.0 56.5 L201.0 56.5 L202.0 56.6 L203.0 56.6 L204.0 56.7 L205.0 56.7 L206.0 56.8 L207.0 56.8 L208.0 56.9 L209.0 56.9 L210.0 57.0 L211.0 57.0 L212.0 57.1 L213.0 57.1 L214.0 57.2 L215.0 57.2 L216.0 57.2 L217.0 57.3 L218.0 57.3 L219.0 57.4 L220.0 57.4 L221.0 57.5 L222.0 57.5 L223.0 57.6 L224.0 57.6 L225.0 57.7 L226.0 57.7 L227.0 57.8 L228.0 57.8 L229.0 57.9 L230.0 57.9 L231.0 58.0 L232.0 58.0 L233.0 58.1 L234.0 58.2 L235.0 58.2 L236.0 58.3 L237.0 58.3 L238.0 58.4 L239.0 58.5 L240.0 58.5 L241.0 58.6 L242.0 58.6 L243.0 58.7 L244.0 58.8 L245.0 58.8 L246.0 58.9 L247.0 59.0 L248.0 59.0 L249.0 59.1 L250.0 59.2 L251.0 59.3 L252.0 59.3 L253.0 59.4 L254.0 59.5 L255.0 59.6 L256.0 59.6 L257.0 59.7 L258.0 59.8 L259.0 59.9 L260.0 60.0 L261.0 60.1 L262.0 60.2 L263.0 60.3 L264.0 60.3 L265.0 60.4 L266.0 60.5 L267.0 60.6 L268.0 60.7 L269.0 60.8 L270.0 60.9 L271.0 61.1 L272.0 61.3 L273.0 61.5 L274.0 61.7 L275.0 62.0 L276.0 62.2 L277.0 62.5 L278.0 62.7 L279.0 62.9 L280.0 63.1 L281.0 63.3 L282.0 63.4 L283.0 63.6 L284.0 63.7 L285.0 63.9 L286.0 64.0 L287.0 64.2 L288.0 64.3 L289.0 64.4 L290.0 64.6 L291.0 64.7 L292.0 64.9 L293.0 65.0 L294.0 65.1 L295.0 65.2 L296.0 65.4 L297.0 65.5 L298.0 65.6 L299.0 65.8 L300.0 65.9 L301.0 66.1 L302.0 66.2 L303.0 66.3 L304.0 66.5 L305.0 66.6 L306.0 66.8 L307.0 66.9 L308.0 67.1 L309.0 67.2 L310.0 67.4 L311.0 67.6 L312.0 67.8 L313.0 67.9 L314.0 68.1 L315.0 68.3 L316.0 68.5 L317.0 68.7 L318.0 68.9 L319.0 69.1 L320.0 69.3 L321.0 69.5 L322.0 69.7 L323.0 69.9 L324.0 70.1 L325.0 70.3 L326.0 70.5 L327.0 70.7 L328.0 70.9 L329.0 71.1 L330.0 71.3 L331.0 71.5 L332.0 71.7 L333.0 71.9 L334.0 72.1 L335.0 72.3 L336.0 72.5 L337.0 72.7 L338.0 72.9 L339.0 73.1 L340.0 73.3 L341.0 73.5 L342.0 73.7 L343.0 73.9 L344.0 74.1 L345.0 74.3 L346.0 74.5 L347.0 74.7 L348.0 74.9 L349.0 75.1 L350.0 75.3 L351.0 75.5 L352.0 75.7 L353.0 75.9 L354.0 76.1 L355.0 76.3 L356.0 76.5 L357.0 76.7 L358.0 76.9 L359.0 77.1 L360.0 77.3 L361.0 77.5 L362.0 77.7 L363.0 77.9 L364.0 78.1 L365.0 78.3 L366.0 78.5 L367.0 78.7 L368.0 78.9 L369.0 79.1 L370.0 79.3 L371.0 79.5 L372.0 79.8 L373.0 80.0 L374.0 80.2 L375.0 80.5 L376.0 80.8 L377.0 81.0 L378.0 81.3 L379.0 81.6 L380.0 81.8 L381.0 82.1 L382.0 82.4 L383.0 82.7 L384.0 83.0 L385.0 83.3 L386.0 83.5 L387.0 83.8 L388.0 84.1 L389.0 84.4 L390.0 84.7 L391.0 85.0 L392.0 85.3 L393.0 85.6 L394.0 85.9 L395.0 86.2 L396.0 86.5 L397.0 86.9 L398.0 87.2 L399.0 87.6 L400.0 87.9 L401.0 88.3 L402.0 88.6 L403.0 89.0 L404.0 89.3 L405.0 89.7 L406.0 90.0 L407.0 90.4 L408.0 90.7 L409.0 91.1 L410.0 91.4 L411.0 91.8 L412.0 92.1 L413.0 92.5 L414.0 92.8 L415.0 93.2 L416.0 93.5 L417.0 93.9 L418.0 94.2 L419.0 94.6 L420.0 94.9 L421.0 95.3 L422.0 95.6 L423.0 96.0 L424.0 96.3 L425.0 96.7 L426.0 97.0 L427.0 97.4 L428.0 97.7 L429.0 98.1 L430.0 98.4 L431.0 98.8 L432.0 99.1 L433.0 99.5 L434.0 99.8 L435.0 100.2 L436.0 100.5 L437.0 100.9 L438.0 101.2 L439.0 101.6 L440.0 101.9 L441.0 102.3 L442.0 102.7 L443.0 103.0 L444.0 103.4 L445.0 103.7 L446.0 104.1 L447.0 104.4 L448.0 104.8 L449.0 105.2 L450.0 105.5 L451.0 105.9 L452.0 106.2 L453.0 106.6 L454.0 106.9 L455.0 107.3 L456.0 107.7 L457.0 108.0 L458.0 108.4 L459.0 108.7 L460.0 109.1 L461.0 109.4 L462.0 109.8 L463.0 110.1 L464.0 110.5 L465.0 110.9 L466.0 111.2 L467.0 111.6 L468.0 111.9 L469.0 112.3 L470.0 112.6 L471.0 112.9 L472.0 113.2 L473.0 113.5 L474.0 113.8 L475.0 114.1 L476.0 114.3 L477.0 114.6 L478.0 114.8 L479.0 115.1 L480.0 115.3 L481.0 115.5 L482.0 115.7 L483.0 115.9 L484.0 116.1 L485.0 116.3 L486.0 116.6 L487.0 116.8 L488.0 117.0 L489.0 117.1 L490.0 117.3 L491.0 117.5 L492.0 117.7 L493.0 117.8 L494.0 117.9 L495.0 118.1 L496.0 118.2 L497.0 118.3 L498.0 118.4 L499.0 118.5 L500.0 118.6 L501.0 118.7 L502.0 118.7 L503.0 118.8 L504.0 118.8 L505.0 118.8 L506.0 118.8 L507.0 118.8 L508.0 118.7 L509.0 118.7 L510.0 118.7 L511.0 118.6 L512.0 118.5 L513.0 118.5 L514.0 118.4 L515.0 118.4 L516.0 118.3 L517.0 118.1 L518.0 118.0 L519.0 117.8 L520.0 117.5 L521.0 117.2 L522.0 116.9 L523.0 116.5 L524.0 116.1 L525.0 115.7 L526.0 115.2 L527.0 114.8 L528.0 114.4 L529.0 114.0 L530.0 113.6 L531.0 113.2 L532.0 112.8 L533.0 112.4 L534.0 112.0 L535.0 111.6 L536.0 111.2 L537.0 110.8 L538.0 110.4 L539.0 110.0 L540.0 109.6 L541.0 109.2 L542.0 108.8 L543.0 108.4 L544.0 108.0 L545.0 107.6 L546.0 107.2 L547.0 106.8 L548.0 106.4 L549.0 106.0 L550.0 105.6 L551.0 105.2 L552.0 104.8 L553.0 104.4 L554.0 103.9 L555.0 103.4 L556.0 102.9 L557.0 102.3 L558.0 101.8 L559.0 101.2 L560.0 100.7 L561.0 100.1 L562.0 99.6 L563.0 99.1 L564.0 98.6 L565.0 98.1 L566.0 97.6 L567.0 97.2 L568.0 96.7 L569.0 96.3 L570.0 95.8 L571.0 95.4 L572.0 94.9 L573.0 94.5 L574.0 94.0 L575.0 93.6 L576.0 93.1 L577.0 92.7 L578.0 92.2 L579.0 91.8 L580.0 91.3 L581.0 90.9 L582.0 90.4 L583.0 90.0 L584.0 89.5 L585.0 89.1 L586.0 88.6 L587.0 88.2 L588.0 87.7 L589.0 87.3 L590.0 86.8 L591.0 86.3 L592.0 85.9 L593.0 85.4 L594.0 85.0 L595.0 84.5 L596.0 84.1 L597.0 83.6 L598.0 83.2 L599.0 82.7 L600.0 82.3 L601.0 81.8 L602.0 81.4 L603.0 81.0 L604.0 80.5 L605.0 80.1 L606.0 79.7 L607.0 79.3 L608.0 79.0 L609.0 78.6 L610.0 78.2 L611.0 77.8 L612.0 77.5 L613.0 77.1 L614.0 76.8 L615.0 76.4 L616.0 76.1 L617.0 75.8 L618.0 75.4 L619.0 75.1 L620.0 74.8 L621.0 74.4 L622.0 74.1 L623.0 73.8 L624.0 73.5 L625.0 73.2 L626.0 72.9 L627.0 72.6 L628.0 72.3 L629.0 72.0 L630.0 71.7 L631.0 71.4 L632.0 71.1 L633.0 70.8 L634.0 70.5 L635.0 70.2 L636.0 69.9 L637.0 69.7 L638.0 69.4 L639.0 69.1 L640.0 68.8 L641.0 68.6 L642.0 68.3 L643.0 68.0 L644.0 67.8 L645.0 67.5 L646.0 67.2 L647.0 67.0 L648.0 66.7 L649.0 66.5 L650.0 66.2 L651.0 66.0 L652.0 65.8 L653.0 65.5 L654.0 65.3 L655.0 65.1 L656.0 64.8 L657.0 64.6 L658.0 64.4 L659.0 64.2 L660.0 64.0 L661.0 63.8 L662.0 63.6 L663.0 63.4 L664.0 63.3 L665.0 63.1 L666.0 62.9 L667.0 62.7 L668.0 62.6 L669.0 62.4 L670.0 62.3 L671.0 62.1 L672.0 62.0 L673.0 61.8 L674.0 61.7 L674.5 61.6" fill="none" stroke="#c6c6c6" stroke-width="2.35" stroke-dasharray="1.85 2.15" stroke-linejoin="round"/>
<path d="M217.50 4.5V163.5" stroke="#e23636" stroke-width="1.8" opacity="0.78" fill="none"/>
</g>
<path d="M65.5 4.50h6M674.5 4.50h-6M65.50 4.5v6M65.50 163.5v-6M65.5 44.25h6M674.5 44.25h-6M217.75 4.5v6M217.75 163.5v-6M65.5 84.00h6M674.5 84.00h-6M370.00 4.5v6M370.00 163.5v-6M65.5 123.75h6M674.5 123.75h-6M522.25 4.5v6M522.25 163.5v-6M65.5 163.50h6M674.5 163.50h-6M674.50 4.5v6M674.50 163.5v-6" stroke="#2a2a2a" stroke-width="1" fill="none"/>
<path d="M65.5 5.0V163.5H674.5V5.0" fill="none" stroke="#222" stroke-width="1.1" stroke-linejoin="miter"/>
<path d="M65.0 5.0H675.0" fill="none" stroke="#484848" stroke-width="1.4"/>
<text transform="translate(58.4 11.6) scale(1.07 1)" text-anchor="end" class="tk">0</text>
<text transform="translate(58.4 51.4) scale(1.07 1)" text-anchor="end" class="tk">-5</text>
<text transform="translate(58.4 91.1) scale(1.07 1)" text-anchor="end" class="tk">-10</text>
<text transform="translate(58.4 130.8) scale(1.07 1)" text-anchor="end" class="tk">-15</text>
<text transform="translate(58.4 170.6) scale(1.07 1)" text-anchor="end" class="tk">-20</text>
<text transform="translate(64.4 187.6) scale(1.07 1)" text-anchor="middle" class="tk">0.5</text>
<text transform="translate(216.7 187.6) scale(1.07 1)" text-anchor="middle" class="tk">1</text>
<text transform="translate(368.9 187.6) scale(1.07 1)" text-anchor="middle" class="tk">1.5</text>
<text transform="translate(521.1 187.6) scale(1.07 1)" text-anchor="middle" class="tk">2</text>
<text transform="translate(672.7 187.6) scale(1.07 1)" text-anchor="middle" class="tk">2.5</text>
<text x="367.5" y="210.7" text-anchor="middle" class="xl">Frequency [GHz]</text>
<g transform="translate(15.6 146.0) rotate(-90)">
<text x="-0.9" y="0.0" class="yl">|</text>
<text x="4.6" y="0.0" class="yl it">S</text>
<text x="16.4" y="9.5" class="sb">11</text>
<text x="32.0" y="0.0" class="yl">|</text>
<text x="36.0" y="0.0" class="yl">,</text>
<text x="44.6" y="0.0" class="yl">|</text>
<text x="51.0" y="0.0" class="yl it">S</text>
<text x="62.4" y="9.5" class="sb">41</text>
<text x="77.9" y="0.0" class="yl">|</text>
<text x="86.5" y="0.0" class="yl">[dB]</text>
</g>
<rect x="582.0" y="96.4" width="81.5" height="57.8" fill="#fff" stroke="#2a2a2a" stroke-width="1"/>
<path d="M585.8 111.5H624.2" stroke="#000" stroke-width="2.7" stroke-dasharray="1.85 2.15" fill="none"/>
<path d="M585.8 139.0H625.5" stroke="#000" stroke-width="2.7" fill="none"/>
<text x="627.4" y="114.1" class="lg">|</text>
<text x="631.6" y="114.1" class="lg it">S</text>
<text x="640.4" y="122.4" class="sb2">11</text>
<text x="654.9" y="114.1" class="lg">|</text>
<text x="627.4" y="141.6" class="lg">|</text>
<text x="631.6" y="141.6" class="lg it">S</text>
<text x="640.4" y="149.9" class="sb2">41</text>
<text x="654.9" y="141.6" class="lg">|</text>
<clipPath id="c2"><rect x="65.5" y="240.5" width="609.0" height="159.0"/></clipPath>
<rect x="65.5" y="240.5" width="609.0" height="159.0" fill="#fff"/>
<path d="M65.5 280.50H674.5M65.5 319.50H674.5M65.5 359.50H674.5M217.50 240.5V399.5M369.50 240.5V399.5M521.50 240.5V399.5" stroke="#dcdcdc" stroke-width="1" fill="none"/>
<g clip-path="url(#c2)">
<path d="M269.87 246.8V258.3M269.87 262.8V274.3M269.87 278.8V290.3M269.87 294.8V306.3M269.87 310.8V322.3M269.87 326.8V338.3M269.87 342.8V354.3M269.87 358.8V370.3M269.87 374.8V386.3M269.87 390.8V399.5" stroke="#e96868" stroke-width="1.15" fill="none"/>
<path d="M413.29 246.4V263.0M413.29 267.0V283.5M413.29 287.0V304.6M413.29 308.8V324.4M413.29 326.9V343.2M413.29 346.8V362.7M413.29 366.2V381.3M413.29 384.8V399.5" stroke="#e96868" stroke-width="1.15" fill="none"/>
<path d="M65.0 285.6 L66.0 285.6 L67.0 285.5 L68.0 285.5 L69.0 285.5 L70.0 285.5 L71.0 285.4 L72.0 285.4 L73.0 285.4 L74.0 285.4 L75.0 285.3 L76.0 285.3 L77.0 285.3 L78.0 285.3 L79.0 285.2 L80.0 285.2 L81.0 285.2 L82.0 285.1 L83.0 285.1 L84.0 285.1 L85.0 285.1 L86.0 285.0 L87.0 285.0 L88.0 285.0 L89.0 285.0 L90.0 284.9 L91.0 284.9 L92.0 284.9 L93.0 284.8 L94.0 284.8 L95.0 284.8 L96.0 284.8 L97.0 284.7 L98.0 284.7 L99.0 284.7 L100.0 284.7 L101.0 284.6 L102.0 284.6 L103.0 284.6 L104.0 284.5 L105.0 284.5 L106.0 284.5 L107.0 284.5 L108.0 284.4 L109.0 284.4 L110.0 284.4 L111.0 284.3 L112.0 284.3 L113.0 284.3 L114.0 284.3 L115.0 284.2 L116.0 284.2 L117.0 284.2 L118.0 284.2 L119.0 284.1 L120.0 284.1 L121.0 284.1 L122.0 284.0 L123.0 284.0 L124.0 284.0 L125.0 284.0 L126.0 283.9 L127.0 283.9 L128.0 283.9 L129.0 283.8 L130.0 283.8 L131.0 283.8 L132.0 283.7 L133.0 283.7 L134.0 283.7 L135.0 283.7 L136.0 283.6 L137.0 283.6 L138.0 283.6 L139.0 283.5 L140.0 283.5 L141.0 283.5 L142.0 283.4 L143.0 283.4 L144.0 283.4 L145.0 283.3 L146.0 283.3 L147.0 283.3 L148.0 283.3 L149.0 283.2 L150.0 283.2 L151.0 283.2 L152.0 283.1 L153.0 283.1 L154.0 283.1 L155.0 283.0 L156.0 283.0 L157.0 283.0 L158.0 283.0 L159.0 282.9 L160.0 282.9 L161.0 282.9 L162.0 282.9 L163.0 282.8 L164.0 282.8 L165.0 282.8 L166.0 282.8 L167.0 282.8 L168.0 282.8 L169.0 282.8 L170.0 282.8 L171.0 282.8 L172.0 282.8 L173.0 282.8 L174.0 282.8 L175.0 282.8 L176.0 282.8 L177.0 282.8 L178.0 282.8 L179.0 282.8 L180.0 282.7 L181.0 282.7 L182.0 282.7 L183.0 282.7 L184.0 282.7 L185.0 282.7 L186.0 282.7 L187.0 282.7 L188.0 282.7 L189.0 282.6 L190.0 282.6 L191.0 282.6 L192.0 282.5 L193.0 282.5 L194.0 282.5 L195.0 282.4 L196.0 282.4 L197.0 282.4 L198.0 282.3 L199.0 282.3 L200.0 282.3 L201.0 282.2 L202.0 282.2 L203.0 282.2 L204.0 282.1 L205.0 282.1 L206.0 282.0 L207.0 282.0 L208.0 282.0 L209.0 281.9 L210.0 281.9 L211.0 281.9 L212.0 281.8 L213.0 281.8 L214.0 281.7 L215.0 281.7 L216.0 281.7 L217.0 281.6 L218.0 281.6 L219.0 281.5 L220.0 281.5 L221.0 281.5 L222.0 281.4 L223.0 281.4 L224.0 281.4 L225.0 281.3 L226.0 281.3 L227.0 281.2 L228.0 281.2 L229.0 281.2 L230.0 281.1 L231.0 281.1 L232.0 281.0 L233.0 281.0 L234.0 280.9 L235.0 280.9 L236.0 280.9 L237.0 280.8 L238.0 280.8 L239.0 280.7 L240.0 280.7 L241.0 280.6 L242.0 280.6 L243.0 280.5 L244.0 280.5 L245.0 280.4 L246.0 280.3 L247.0 280.3 L248.0 280.2 L249.0 280.2 L250.0 280.1 L251.0 280.0 L252.0 280.0 L253.0 279.9 L254.0 279.8 L255.0 279.8 L256.0 279.7 L257.0 279.7 L258.0 279.6 L259.0 279.5 L260.0 279.5 L261.0 279.4 L262.0 279.3 L263.0 279.3 L264.0 279.2 L265.0 279.1 L266.0 279.1 L267.0 279.0 L268.0 279.0 L269.0 278.9 L270.0 278.9 L271.0 278.8 L272.0 278.8 L273.0 278.7 L274.0 278.6 L275.0 278.6 L276.0 278.5 L277.0 278.5 L278.0 278.4 L279.0 278.4 L280.0 278.3 L281.0 278.3 L282.0 278.2 L283.0 278.2 L284.0 278.1 L285.0 278.0 L286.0 278.0 L287.0 277.9 L288.0 277.9 L289.0 277.8 L290.0 277.8 L291.0 277.7 L292.0 277.7 L293.0 277.6 L294.0 277.6 L295.0 277.5 L296.0 277.5 L297.0 277.5 L298.0 277.4 L299.0 277.4 L300.0 277.3 L301.0 277.3 L302.0 277.2 L303.0 277.2 L304.0 277.1 L305.0 277.1 L306.0 277.1 L307.0 277.0 L308.0 277.0 L309.0 276.9 L310.0 276.9 L311.0 276.8 L312.0 276.8 L313.0 276.7 L314.0 276.7 L315.0 276.6 L316.0 276.5 L317.0 276.5 L318.0 276.4 L319.0 276.4 L320.0 276.3 L321.0 276.3 L322.0 276.2 L323.0 276.2 L324.0 276.1 L325.0 276.1 L326.0 276.0 L327.0 276.0 L328.0 275.9 L329.0 275.9 L330.0 275.8 L331.0 275.8 L332.0 275.7 L333.0 275.6 L334.0 275.6 L335.0 275.5 L336.0 275.5 L337.0 275.4 L338.0 275.4 L339.0 275.3 L340.0 275.3 L341.0 275.3 L342.0 275.2 L343.0 275.2 L344.0 275.1 L345.0 275.1 L346.0 275.1 L347.0 275.0 L348.0 275.0 L349.0 275.0 L350.0 274.9 L351.0 274.9 L352.0 274.9 L353.0 274.8 L354.0 274.8 L355.0 274.8 L356.0 274.8 L357.0 274.7 L358.0 274.7 L359.0 274.7 L360.0 274.6 L361.0 274.6 L362.0 274.6 L363.0 274.5 L364.0 274.5 L365.0 274.5 L366.0 274.4 L367.0 274.4 L368.0 274.4 L369.0 274.3 L370.0 274.3 L371.0 274.2 L372.0 274.2 L373.0 274.2 L374.0 274.1 L375.0 274.1 L376.0 274.0 L377.0 273.9 L378.0 273.9 L379.0 273.8 L380.0 273.8 L381.0 273.7 L382.0 273.7 L383.0 273.6 L384.0 273.5 L385.0 273.5 L386.0 273.4 L387.0 273.3 L388.0 273.3 L389.0 273.2 L390.0 273.2 L391.0 273.1 L392.0 273.0 L393.0 273.0 L394.0 272.9 L395.0 272.8 L396.0 272.8 L397.0 272.7 L398.0 272.6 L399.0 272.6 L400.0 272.5 L401.0 272.5 L402.0 272.4 L403.0 272.3 L404.0 272.3 L405.0 272.2 L406.0 272.2 L407.0 272.1 L408.0 272.1 L409.0 272.0 L410.0 272.0 L411.0 271.9 L412.0 271.9 L413.0 271.8 L414.0 271.8 L415.0 271.7 L416.0 271.7 L417.0 271.7 L418.0 271.6 L419.0 271.6 L420.0 271.5 L421.0 271.5 L422.0 271.5 L423.0 271.4 L424.0 271.4 L425.0 271.4 L426.0 271.4 L427.0 271.3 L428.0 271.3 L429.0 271.3 L430.0 271.3 L431.0 271.2 L432.0 271.2 L433.0 271.2 L434.0 271.2 L435.0 271.2 L436.0 271.1 L437.0 271.1 L438.0 271.1 L439.0 271.1 L440.0 271.1 L441.0 271.1 L442.0 271.1 L443.0 271.1 L444.0 271.1 L445.0 271.1 L446.0 271.0 L447.0 271.0 L448.0 271.0 L449.0 271.0 L450.0 271.0 L451.0 271.0 L452.0 271.0 L453.0 271.0 L454.0 271.0 L455.0 271.0 L456.0 271.0 L457.0 271.0 L458.0 271.0 L459.0 271.1 L460.0 271.1 L461.0 271.1 L462.0 271.1 L463.0 271.1 L464.0 271.1 L465.0 271.1 L466.0 271.1 L467.0 271.1 L468.0 271.2 L469.0 271.2 L470.0 271.2 L471.0 271.2 L472.0 271.2 L473.0 271.2 L474.0 271.2 L475.0 271.3 L476.0 271.3 L477.0 271.3 L478.0 271.3 L479.0 271.3 L480.0 271.4 L481.0 271.4 L482.0 271.4 L483.0 271.4 L484.0 271.5 L485.0 271.5 L486.0 271.5 L487.0 271.5 L488.0 271.6 L489.0 271.6 L490.0 271.6 L491.0 271.7 L492.0 271.7 L493.0 271.7 L494.0 271.8 L495.0 271.8 L496.0 271.8 L497.0 271.9 L498.0 271.9 L499.0 272.0 L500.0 272.0 L501.0 272.0 L502.0 272.1 L503.0 272.1 L504.0 272.2 L505.0 272.2 L506.0 272.2 L507.0 272.3 L508.0 272.3 L509.0 272.4 L510.0 272.4 L511.0 272.4 L512.0 272.5 L513.0 272.5 L514.0 272.6 L515.0 272.6 L516.0 272.7 L517.0 272.7 L518.0 272.8 L519.0 272.8 L520.0 272.9 L521.0 272.9 L522.0 273.0 L523.0 273.0 L524.0 273.1 L525.0 273.1 L526.0 273.2 L527.0 273.2 L528.0 273.3 L529.0 273.3 L530.0 273.3 L531.0 273.4 L532.0 273.4 L533.0 273.5 L534.0 273.5 L535.0 273.5 L536.0 273.6 L537.0 273.6 L538.0 273.6 L539.0 273.7 L540.0 273.7 L541.0 273.7 L542.0 273.7 L543.0 273.8 L544.0 273.8 L545.0 273.8 L546.0 273.8 L547.0 273.9 L548.0 273.9 L549.0 273.9 L550.0 274.0 L551.0 274.0 L552.0 274.0 L553.0 274.0 L554.0 274.1 L555.0 274.1 L556.0 274.1 L557.0 274.2 L558.0 274.2 L559.0 274.3 L560.0 274.3 L561.0 274.3 L562.0 274.4 L563.0 274.4 L564.0 274.5 L565.0 274.5 L566.0 274.6 L567.0 274.6 L568.0 274.7 L569.0 274.7 L570.0 274.8 L571.0 274.8 L572.0 274.9 L573.0 274.9 L574.0 275.0 L575.0 275.0 L576.0 275.1 L577.0 275.1 L578.0 275.2 L579.0 275.2 L580.0 275.3 L581.0 275.3 L582.0 275.4 L583.0 275.4 L584.0 275.5 L585.0 275.6 L586.0 275.6 L587.0 275.7 L588.0 275.7 L589.0 275.8 L590.0 275.9 L591.0 275.9 L592.0 276.0 L593.0 276.1 L594.0 276.1 L595.0 276.2 L596.0 276.3 L597.0 276.3 L598.0 276.4 L599.0 276.5 L600.0 276.5 L601.0 276.6 L602.0 276.7 L603.0 276.8 L604.0 276.8 L605.0 276.9 L606.0 277.0 L607.0 277.0 L608.0 277.1 L609.0 277.2 L610.0 277.3 L611.0 277.4 L612.0 277.4 L613.0 277.5 L614.0 277.6 L615.0 277.7 L616.0 277.8 L617.0 277.9 L618.0 278.0 L619.0 278.1 L620.0 278.1 L621.0 278.2 L622.0 278.3 L623.0 278.5 L624.0 278.6 L625.0 278.7 L626.0 278.8 L627.0 278.9 L628.0 279.0 L629.0 279.1 L630.0 279.2 L631.0 279.3 L632.0 279.4 L633.0 279.6 L634.0 279.7 L635.0 279.8 L636.0 279.9 L637.0 280.0 L638.0 280.2 L639.0 280.3 L640.0 280.4 L641.0 280.6 L642.0 280.7 L643.0 280.9 L644.0 281.0 L645.0 281.2 L646.0 281.3 L647.0 281.5 L648.0 281.7 L649.0 281.8 L650.0 282.0 L651.0 282.2 L652.0 282.4 L653.0 282.5 L654.0 282.7 L655.0 282.9 L656.0 283.1 L657.0 283.3 L658.0 283.5 L659.0 283.7 L660.0 283.9 L661.0 284.1 L662.0 284.3 L663.0 284.5 L664.0 284.7 L665.0 285.0 L666.0 285.2 L667.0 285.4 L668.0 285.7 L669.0 285.9 L670.0 286.1 L671.0 286.4 L672.0 286.6 L673.0 286.9 L674.0 287.2 L674.5 287.3" fill="none" stroke="#c6c6c6" stroke-width="2.35" stroke-linejoin="round"/>
<path d="M65.0 288.4 L66.0 288.4 L67.0 288.4 L68.0 288.4 L69.0 288.4 L70.0 288.5 L71.0 288.5 L72.0 288.5 L73.0 288.5 L74.0 288.5 L75.0 288.5 L76.0 288.5 L77.0 288.5 L78.0 288.5 L79.0 288.5 L80.0 288.5 L81.0 288.6 L82.0 288.6 L83.0 288.6 L84.0 288.6 L85.0 288.6 L86.0 288.6 L87.0 288.6 L88.0 288.6 L89.0 288.6 L90.0 288.6 L91.0 288.6 L92.0 288.6 L93.0 288.6 L94.0 288.6 L95.0 288.6 L96.0 288.7 L97.0 288.7 L98.0 288.7 L99.0 288.7 L100.0 288.7 L101.0 288.7 L102.0 288.7 L103.0 288.7 L104.0 288.7 L105.0 288.7 L106.0 288.7 L107.0 288.7 L108.0 288.7 L109.0 288.7 L110.0 288.7 L111.0 288.7 L112.0 288.7 L113.0 288.7 L114.0 288.7 L115.0 288.7 L116.0 288.7 L117.0 288.7 L118.0 288.7 L119.0 288.7 L120.0 288.7 L121.0 288.7 L122.0 288.7 L123.0 288.7 L124.0 288.7 L125.0 288.7 L126.0 288.7 L127.0 288.6 L128.0 288.6 L129.0 288.6 L130.0 288.6 L131.0 288.6 L132.0 288.6 L133.0 288.6 L134.0 288.6 L135.0 288.6 L136.0 288.6 L137.0 288.6 L138.0 288.6 L139.0 288.6 L140.0 288.6 L141.0 288.5 L142.0 288.5 L143.0 288.5 L144.0 288.5 L145.0 288.5 L146.0 288.5 L147.0 288.5 L148.0 288.5 L149.0 288.5 L150.0 288.4 L151.0 288.4 L152.0 288.4 L153.0 288.4 L154.0 288.4 L155.0 288.4 L156.0 288.4 L157.0 288.3 L158.0 288.3 L159.0 288.3 L160.0 288.3 L161.0 288.3 L162.0 288.3 L163.0 288.3 L164.0 288.2 L165.0 288.2 L166.0 288.2 L167.0 288.2 L168.0 288.2 L169.0 288.2 L170.0 288.1 L171.0 288.1 L172.0 288.1 L173.0 288.1 L174.0 288.1 L175.0 288.1 L176.0 288.0 L177.0 288.0 L178.0 288.0 L179.0 288.0 L180.0 288.0 L181.0 288.0 L182.0 287.9 L183.0 287.9 L184.0 287.9 L185.0 287.9 L186.0 287.9 L187.0 287.8 L188.0 287.8 L189.0 287.8 L190.0 287.8 L191.0 287.8 L192.0 287.8 L193.0 287.8 L194.0 287.7 L195.0 287.7 L196.0 287.7 L197.0 287.7 L198.0 287.7 L199.0 287.7 L200.0 287.6 L201.0 287.6 L202.0 287.6 L203.0 287.6 L204.0 287.6 L205.0 287.5 L206.0 287.5 L207.0 287.5 L208.0 287.5 L209.0 287.4 L210.0 287.4 L211.0 287.4 L212.0 287.3 L213.0 287.3 L214.0 287.3 L215.0 287.2 L216.0 287.2 L217.0 287.1 L218.0 287.1 L219.0 287.0 L220.0 287.0 L221.0 286.9 L222.0 286.9 L223.0 286.8 L224.0 286.8 L225.0 286.7 L226.0 286.7 L227.0 286.6 L228.0 286.6 L229.0 286.5 L230.0 286.5 L231.0 286.4 L232.0 286.4 L233.0 286.3 L234.0 286.3 L235.0 286.2 L236.0 286.2 L237.0 286.1 L238.0 286.1 L239.0 286.0 L240.0 286.0 L241.0 285.9 L242.0 285.8 L243.0 285.8 L244.0 285.7 L245.0 285.7 L246.0 285.6 L247.0 285.6 L248.0 285.5 L249.0 285.5 L250.0 285.4 L251.0 285.4 L252.0 285.3 L253.0 285.3 L254.0 285.2 L255.0 285.2 L256.0 285.1 L257.0 285.1 L258.0 285.0 L259.0 285.0 L260.0 284.9 L261.0 284.8 L262.0 284.7 L263.0 284.6 L264.0 284.5 L265.0 284.4 L266.0 284.2 L267.0 284.1 L268.0 283.9 L269.0 283.8 L270.0 283.6 L271.0 283.5 L272.0 283.3 L273.0 283.2 L274.0 283.1 L275.0 282.9 L276.0 282.9 L277.0 282.8 L278.0 282.7 L279.0 282.7 L280.0 282.6 L281.0 282.6 L282.0 282.5 L283.0 282.5 L284.0 282.4 L285.0 282.4 L286.0 282.3 L287.0 282.3 L288.0 282.2 L289.0 282.2 L290.0 282.1 L291.0 282.1 L292.0 282.0 L293.0 281.9 L294.0 281.9 L295.0 281.8 L296.0 281.8 L297.0 281.7 L298.0 281.7 L299.0 281.6 L300.0 281.5 L301.0 281.5 L302.0 281.4 L303.0 281.3 L304.0 281.3 L305.0 281.2 L306.0 281.1 L307.0 281.1 L308.0 281.0 L309.0 280.9 L310.0 280.8 L311.0 280.7 L312.0 280.7 L313.0 280.6 L314.0 280.5 L315.0 280.4 L316.0 280.3 L317.0 280.2 L318.0 280.1 L319.0 280.0 L320.0 279.9 L321.0 279.8 L322.0 279.7 L323.0 279.6 L324.0 279.5 L325.0 279.4 L326.0 279.3 L327.0 279.2 L328.0 279.1 L329.0 279.0 L330.0 278.9 L331.0 278.8 L332.0 278.7 L333.0 278.6 L334.0 278.5 L335.0 278.4 L336.0 278.3 L337.0 278.1 L338.0 278.0 L339.0 277.9 L340.0 277.8 L341.0 277.7 L342.0 277.6 L343.0 277.4 L344.0 277.3 L345.0 277.2 L346.0 277.1 L347.0 277.0 L348.0 276.8 L349.0 276.7 L350.0 276.6 L351.0 276.5 L352.0 276.4 L353.0 276.2 L354.0 276.1 L355.0 276.0 L356.0 275.8 L357.0 275.7 L358.0 275.6 L359.0 275.4 L360.0 275.3 L361.0 275.1 L362.0 275.0 L363.0 274.9 L364.0 274.7 L365.0 274.6 L366.0 274.4 L367.0 274.3 L368.0 274.1 L369.0 274.0 L370.0 273.8 L371.0 273.7 L372.0 273.5 L373.0 273.4 L374.0 273.3 L375.0 273.1 L376.0 273.0 L377.0 272.8 L378.0 272.7 L379.0 272.5 L380.0 272.4 L381.0 272.2 L382.0 272.1 L383.0 272.0 L384.0 271.8 L385.0 271.7 L386.0 271.6 L387.0 271.4 L388.0 271.3 L389.0 271.2 L390.0 271.0 L391.0 270.9 L392.0 270.8 L393.0 270.7 L394.0 270.6 L395.0 270.4 L396.0 270.3 L397.0 270.2 L398.0 270.1 L399.0 270.0 L400.0 269.9 L401.0 269.7 L402.0 269.6 L403.0 269.5 L404.0 269.4 L405.0 269.3 L406.0 269.2 L407.0 269.1 L408.0 269.0 L409.0 268.9 L410.0 268.9 L411.0 268.8 L412.0 268.7 L413.0 268.6 L414.0 268.6 L415.0 268.5 L416.0 268.4 L417.0 268.4 L418.0 268.3 L419.0 268.3 L420.0 268.2 L421.0 268.2 L422.0 268.1 L423.0 268.1 L424.0 268.0 L425.0 268.0 L426.0 267.9 L427.0 267.9 L428.0 267.9 L429.0 267.8 L430.0 267.8 L431.0 267.7 L432.0 267.7 L433.0 267.6 L434.0 267.6 L435.0 267.5 L436.0 267.5 L437.0 267.4 L438.0 267.4 L439.0 267.3 L440.0 267.3 L441.0 267.2 L442.0 267.1 L443.0 267.1 L444.0 267.0 L445.0 266.9 L446.0 266.8 L447.0 266.8 L448.0 266.7 L449.0 266.6 L450.0 266.6 L451.0 266.5 L452.0 266.4 L453.0 266.3 L454.0 266.3 L455.0 266.2 L456.0 266.1 L457.0 266.0 L458.0 266.0 L459.0 265.9 L460.0 265.8 L461.0 265.8 L462.0 265.7 L463.0 265.7 L464.0 265.6 L465.0 265.5 L466.0 265.5 L467.0 265.4 L468.0 265.4 L469.0 265.4 L470.0 265.3 L471.0 265.3 L472.0 265.2 L473.0 265.2 L474.0 265.2 L475.0 265.2 L476.0 265.1 L477.0 265.1 L478.0 265.1 L479.0 265.1 L480.0 265.0 L481.0 265.0 L482.0 265.0 L483.0 265.0 L484.0 265.0 L485.0 264.9 L486.0 264.9 L487.0 264.9 L488.0 264.9 L489.0 264.9 L490.0 264.9 L491.0 264.9 L492.0 264.9 L493.0 264.9 L494.0 264.9 L495.0 264.8 L496.0 264.8 L497.0 264.8 L498.0 264.9 L499.0 264.9 L500.0 264.9 L501.0 264.9 L502.0 264.9 L503.0 264.9 L504.0 265.0 L505.0 265.0 L506.0 265.0 L507.0 265.1 L508.0 265.1 L509.0 265.2 L510.0 265.2 L511.0 265.3 L512.0 265.3 L513.0 265.3 L514.0 265.4 L515.0 265.4 L516.0 265.5 L517.0 265.5 L518.0 265.6 L519.0 265.6 L520.0 265.7 L521.0 265.7 L522.0 265.8 L523.0 265.8 L524.0 265.9 L525.0 265.9 L526.0 266.0 L527.0 266.0 L528.0 266.1 L529.0 266.1 L530.0 266.2 L531.0 266.2 L532.0 266.3 L533.0 266.3 L534.0 266.4 L535.0 266.4 L536.0 266.5 L537.0 266.5 L538.0 266.6 L539.0 266.6 L540.0 266.7 L541.0 266.7 L542.0 266.8 L543.0 266.8 L544.0 266.9 L545.0 266.9 L546.0 267.0 L547.0 267.0 L548.0 267.1 L549.0 267.1 L550.0 267.2 L551.0 267.2 L552.0 267.3 L553.0 267.3 L554.0 267.4 L555.0 267.5 L556.0 267.5 L557.0 267.6 L558.0 267.6 L559.0 267.7 L560.0 267.7 L561.0 267.8 L562.0 267.9 L563.0 267.9 L564.0 268.0 L565.0 268.0 L566.0 268.1 L567.0 268.2 L568.0 268.2 L569.0 268.3 L570.0 268.4 L571.0 268.5 L572.0 268.5 L573.0 268.6 L574.0 268.7 L575.0 268.7 L576.0 268.8 L577.0 268.9 L578.0 269.0 L579.0 269.0 L580.0 269.1 L581.0 269.2 L582.0 269.3 L583.0 269.3 L584.0 269.4 L585.0 269.5 L586.0 269.6 L587.0 269.6 L588.0 269.7 L589.0 269.8 L590.0 269.9 L591.0 270.0 L592.0 270.0 L593.0 270.1 L594.0 270.2 L595.0 270.3 L596.0 270.4 L597.0 270.4 L598.0 270.5 L599.0 270.6 L600.0 270.7 L601.0 270.8 L602.0 270.8 L603.0 270.9 L604.0 271.0 L605.0 271.1 L606.0 271.2 L607.0 271.2 L608.0 271.3 L609.0 271.4 L610.0 271.5 L611.0 271.6 L612.0 271.6 L613.0 271.7 L614.0 271.8 L615.0 271.9 L616.0 271.9 L617.0 272.0 L618.0 272.1 L619.0 272.1 L620.0 272.2 L621.0 272.3 L622.0 272.4 L623.0 272.4 L624.0 272.5 L625.0 272.6 L626.0 272.7 L627.0 272.7 L628.0 272.8 L629.0 272.9 L630.0 272.9 L631.0 273.0 L632.0 273.1 L633.0 273.2 L634.0 273.2 L635.0 273.3 L636.0 273.4 L637.0 273.4 L638.0 273.5 L639.0 273.6 L640.0 273.6 L641.0 273.7 L642.0 273.7 L643.0 273.8 L644.0 273.9 L645.0 273.9 L646.0 274.0 L647.0 274.0 L648.0 274.1 L649.0 274.2 L650.0 274.2 L651.0 274.3 L652.0 274.3 L653.0 274.4 L654.0 274.5 L655.0 274.5 L656.0 274.6 L657.0 274.7 L658.0 274.7 L659.0 274.8 L660.0 274.9 L661.0 274.9 L662.0 275.0 L663.0 275.1 L664.0 275.2 L665.0 275.2 L666.0 275.3 L667.0 275.4 L668.0 275.5 L669.0 275.5 L670.0 275.6 L671.0 275.7 L672.0 275.8 L673.0 275.9 L674.0 276.0 L674.5 276.0" fill="none" stroke="#c6c6c6" stroke-width="2.35" stroke-dasharray="1.85 2.15" stroke-linejoin="round"/>
<path d="M65.0 283.3 L66.0 283.3 L67.0 283.2 L68.0 283.2 L69.0 283.2 L70.0 283.1 L71.0 283.1 L72.0 283.1 L73.0 283.0 L74.0 283.0 L75.0 283.0 L76.0 282.9 L77.0 282.9 L78.0 282.8 L79.0 282.8 L80.0 282.8 L81.0 282.7 L82.0 282.7 L83.0 282.6 L84.0 282.6 L85.0 282.6 L86.0 282.5 L87.0 282.5 L88.0 282.5 L89.0 282.4 L90.0 282.4 L91.0 282.3 L92.0 282.3 L93.0 282.3 L94.0 282.2 L95.0 282.2 L96.0 282.1 L97.0 282.1 L98.0 282.0 L99.0 282.0 L100.0 282.0 L101.0 281.9 L102.0 281.9 L103.0 281.8 L104.0 281.8 L105.0 281.8 L106.0 281.7 L107.0 281.7 L108.0 281.6 L109.0 281.6 L110.0 281.5 L111.0 281.5 L112.0 281.4 L113.0 281.4 L114.0 281.4 L115.0 281.3 L116.0 281.3 L117.0 281.2 L118.0 281.2 L119.0 281.1 L120.0 281.1 L121.0 281.1 L122.0 281.0 L123.0 281.0 L124.0 280.9 L125.0 280.9 L126.0 280.8 L127.0 280.8 L128.0 280.7 L129.0 280.7 L130.0 280.6 L131.0 280.6 L132.0 280.5 L133.0 280.5 L134.0 280.4 L135.0 280.4 L136.0 280.3 L137.0 280.3 L138.0 280.2 L139.0 280.2 L140.0 280.1 L141.0 280.1 L142.0 280.0 L143.0 279.9 L144.0 279.9 L145.0 279.8 L146.0 279.8 L147.0 279.7 L148.0 279.6 L149.0 279.6 L150.0 279.5 L151.0 279.4 L152.0 279.4 L153.0 279.3 L154.0 279.2 L155.0 279.1 L156.0 279.0 L157.0 279.0 L158.0 278.9 L159.0 278.8 L160.0 278.7 L161.0 278.6 L162.0 278.5 L163.0 278.4 L164.0 278.4 L165.0 278.3 L166.0 278.2 L167.0 278.1 L168.0 278.0 L169.0 277.9 L170.0 277.8 L171.0 277.7 L172.0 277.6 L173.0 277.5 L174.0 277.4 L175.0 277.4 L176.0 277.3 L177.0 277.2 L178.0 277.1 L179.0 277.0 L180.0 277.0 L181.0 276.9 L182.0 276.8 L183.0 276.7 L184.0 276.6 L185.0 276.6 L186.0 276.5 L187.0 276.4 L188.0 276.3 L189.0 276.2 L190.0 276.2 L191.0 276.1 L192.0 276.0 L193.0 275.9 L194.0 275.8 L195.0 275.8 L196.0 275.7 L197.0 275.6 L198.0 275.5 L199.0 275.4 L200.0 275.4 L201.0 275.3 L202.0 275.2 L203.0 275.2 L204.0 275.1 L205.0 275.0 L206.0 275.0 L207.0 274.9 L208.0 274.8 L209.0 274.8 L210.0 274.7 L211.0 274.7 L212.0 274.6 L213.0 274.6 L214.0 274.5 L215.0 274.5 L216.0 274.5 L217.0 274.4 L218.0 274.4 L219.0 274.4 L220.0 274.3 L221.0 274.3 L222.0 274.3 L223.0 274.2 L224.0 274.2 L225.0 274.2 L226.0 274.1 L227.0 274.1 L228.0 274.1 L229.0 274.0 L230.0 274.0 L231.0 274.0 L232.0 274.0 L233.0 273.9 L234.0 273.9 L235.0 273.9 L236.0 273.8 L237.0 273.8 L238.0 273.8 L239.0 273.8 L240.0 273.7 L241.0 273.7 L242.0 273.7 L243.0 273.6 L244.0 273.6 L245.0 273.6 L246.0 273.5 L247.0 273.5 L248.0 273.5 L249.0 273.4 L250.0 273.4 L251.0 273.4 L252.0 273.4 L253.0 273.3 L254.0 273.3 L255.0 273.3 L256.0 273.2 L257.0 273.2 L258.0 273.2 L259.0 273.1 L260.0 273.1 L261.0 273.1 L262.0 273.0 L263.0 273.0 L264.0 273.0 L265.0 273.0 L266.0 273.0 L267.0 272.9 L268.0 272.9 L269.0 272.9 L270.0 272.9 L271.0 272.9 L272.0 272.9 L273.0 272.9 L274.0 272.8 L275.0 272.8 L276.0 272.8 L277.0 272.8 L278.0 272.8 L279.0 272.8 L280.0 272.8 L281.0 272.8 L282.0 272.8 L283.0 272.8 L284.0 272.8 L285.0 272.8 L286.0 272.8 L287.0 272.8 L288.0 272.8 L289.0 272.8 L290.0 272.8 L291.0 272.8 L292.0 272.8 L293.0 272.8 L294.0 272.8 L295.0 272.9 L296.0 272.9 L297.0 272.9 L298.0 272.9 L299.0 272.9 L300.0 272.9 L301.0 272.9 L302.0 273.0 L303.0 273.0 L304.0 273.0 L305.0 273.0 L306.0 273.0 L307.0 273.1 L308.0 273.1 L309.0 273.1 L310.0 273.1 L311.0 273.2 L312.0 273.2 L313.0 273.2 L314.0 273.3 L315.0 273.3 L316.0 273.3 L317.0 273.4 L318.0 273.4 L319.0 273.5 L320.0 273.5 L321.0 273.5 L322.0 273.6 L323.0 273.6 L324.0 273.7 L325.0 273.8 L326.0 273.8 L327.0 273.9 L328.0 273.9 L329.0 274.0 L330.0 274.1 L331.0 274.1 L332.0 274.2 L333.0 274.3 L334.0 274.4 L335.0 274.5 L336.0 274.5 L337.0 274.6 L338.0 274.7 L339.0 274.8 L340.0 274.9 L341.0 275.0 L342.0 275.1 L343.0 275.2 L344.0 275.3 L345.0 275.4 L346.0 275.5 L347.0 275.6 L348.0 275.8 L349.0 275.9 L350.0 276.0 L351.0 276.1 L352.0 276.2 L353.0 276.4 L354.0 276.5 L355.0 276.6 L356.0 276.8 L357.0 276.9 L358.0 277.0 L359.0 277.1 L360.0 277.3 L361.0 277.4 L362.0 277.5 L363.0 277.6 L364.0 277.8 L365.0 277.9 L366.0 278.0 L367.0 278.1 L368.0 278.3 L369.0 278.4 L370.0 278.5 L371.0 278.7 L372.0 278.8 L373.0 278.9 L374.0 279.0 L375.0 279.2 L376.0 279.3 L377.0 279.4 L378.0 279.6 L379.0 279.7 L380.0 279.8 L381.0 279.9 L382.0 280.1 L383.0 280.2 L384.0 280.3 L385.0 280.5 L386.0 280.6 L387.0 280.7 L388.0 280.8 L389.0 281.0 L390.0 281.1 L391.0 281.2 L392.0 281.4 L393.0 281.5 L394.0 281.6 L395.0 281.8 L396.0 281.9 L397.0 282.0 L398.0 282.2 L399.0 282.3 L400.0 282.5 L401.0 282.6 L402.0 282.8 L403.0 282.9 L404.0 283.1 L405.0 283.3 L406.0 283.5 L407.0 283.6 L408.0 283.8 L409.0 284.0 L410.0 284.2 L411.0 284.4 L412.0 284.5 L413.0 284.7 L414.0 284.9 L415.0 285.1 L416.0 285.3 L417.0 285.5 L418.0 285.7 L419.0 285.9 L420.0 286.2 L421.0 286.4 L422.0 286.6 L423.0 286.9 L424.0 287.1 L425.0 287.4 L426.0 287.6 L427.0 287.9 L428.0 288.2 L429.0 288.5 L430.0 288.8 L431.0 289.1 L432.0 289.3 L433.0 289.6 L434.0 289.9 L435.0 290.2 L436.0 290.5 L437.0 290.8 L438.0 291.1 L439.0 291.4 L440.0 291.7 L441.0 292.0 L442.0 292.3 L443.0 292.7 L444.0 293.0 L445.0 293.3 L446.0 293.6 L447.0 293.9 L448.0 294.2 L449.0 294.5 L450.0 294.8 L451.0 295.2 L452.0 295.5 L453.0 295.8 L454.0 296.1 L455.0 296.4 L456.0 296.7 L457.0 297.1 L458.0 297.4 L459.0 297.7 L460.0 298.0 L461.0 298.3 L462.0 298.6 L463.0 299.0 L464.0 299.3 L465.0 299.6 L466.0 299.9 L467.0 300.3 L468.0 300.6 L469.0 300.9 L470.0 301.2 L471.0 301.6 L472.0 301.9 L473.0 302.2 L474.0 302.6 L475.0 302.9 L476.0 303.2 L477.0 303.6 L478.0 303.9 L479.0 304.3 L480.0 304.6 L481.0 305.0 L482.0 305.3 L483.0 305.7 L484.0 306.1 L485.0 306.5 L486.0 307.0 L487.0 307.4 L488.0 307.9 L489.0 308.3 L490.0 308.8 L491.0 309.3 L492.0 309.7 L493.0 310.2 L494.0 310.7 L495.0 311.2 L496.0 311.7 L497.0 312.3 L498.0 312.8 L499.0 313.4 L500.0 314.0 L501.0 314.6 L502.0 315.2 L503.0 315.8 L504.0 316.4 L505.0 317.1 L506.0 317.8 L507.0 318.4 L508.0 319.1 L509.0 319.8 L510.0 320.5 L511.0 321.2 L512.0 321.9 L513.0 322.6 L514.0 323.3 L515.0 324.1 L516.0 324.9 L517.0 325.6 L518.0 326.4 L519.0 327.2 L520.0 328.0 L521.0 328.8 L522.0 329.6 L523.0 330.4 L524.0 331.3 L525.0 332.2 L526.0 333.1 L527.0 334.1 L528.0 335.0 L529.0 336.0 L530.0 337.0 L531.0 338.0 L532.0 339.1 L533.0 340.2 L534.0 341.3 L535.0 342.5 L536.0 343.7 L537.0 345.0 L538.0 346.3 L539.0 347.7 L540.0 349.1 L541.0 350.5 L542.0 351.9 L543.0 353.4 L544.0 354.9 L545.0 356.3 L546.0 357.8 L547.0 359.3 L548.0 360.9 L549.0 362.4 L550.0 363.9 L551.0 365.4 L552.0 367.0 L553.0 368.6 L554.0 370.2 L555.0 371.9 L556.0 373.6 L557.0 375.3 L558.0 377.2 L559.0 379.2 L560.0 381.2 L561.0 383.2 L562.0 385.4 L563.0 387.5 L564.0 389.6 L565.0 391.8 L566.0 394.1 L567.0 396.3 L568.0 398.6 L569.0 400.7 L570.0 402.8 L571.0 404.9 L572.0 406.8 L573.0 408.7 L574.0 410.6 L575.0 412.4 L576.0 414.1 L577.0 415.8 L578.0 417.4 L579.0 419.0 L580.0 420.6 L581.0 422.1 L582.0 423.5 L583.0 424.7 L584.0 425.9 L585.0 426.9 L586.0 427.8 L587.0 428.7 L588.0 429.4 L589.0 430.1 L590.0 430.6 L591.0 431.1 L592.0 431.5 L593.0 431.9 L594.0 432.2 L595.0 432.4 L596.0 432.5 L597.0 432.6 L598.0 432.6 L599.0 432.6 L600.0 432.5 L601.0 432.3 L602.0 432.0 L603.0 431.7 L604.0 431.3 L605.0 430.8 L606.0 430.2 L607.0 429.6 L608.0 428.9 L609.0 428.1 L610.0 427.3 L611.0 426.3 L612.0 425.3 L613.0 424.3 L614.0 423.1 L615.0 421.9 L616.0 420.6 L617.0 419.1 L618.0 417.4 L619.0 415.5 L620.0 413.4 L621.0 411.3 L622.0 409.1 L623.0 407.0 L624.0 405.0 L625.0 403.2 L626.0 401.6 L627.0 400.3 L628.0 399.3 L629.0 398.4 L630.0 397.4 L631.0 396.5 L632.0 395.6 L633.0 394.8 L634.0 394.0 L635.0 393.2 L636.0 392.4 L637.0 391.7 L638.0 391.0 L639.0 390.4 L640.0 389.7 L641.0 389.1 L642.0 388.4 L643.0 387.8 L644.0 387.1 L645.0 386.5 L646.0 385.9 L647.0 385.3 L648.0 384.7 L649.0 384.1 L650.0 383.6 L651.0 383.1 L652.0 382.6 L653.0 382.1 L654.0 381.6 L655.0 381.2 L656.0 380.7 L657.0 380.3 L658.0 379.9 L659.0 379.5 L660.0 379.1 L661.0 378.7 L662.0 378.4 L663.0 378.1 L664.0 377.7 L665.0 377.4 L666.0 377.2 L667.0 376.9 L668.0 376.7 L669.0 376.5 L670.0 376.4 L671.0 376.2 L672.0 376.1 L673.0 376.0 L674.0 375.9 L674.5 375.9" fill="none" stroke="#969696" stroke-width="2.35" stroke-linejoin="round"/>
<path d="M65.0 286.6 L66.0 286.6 L67.0 286.6 L68.0 286.6 L69.0 286.6 L70.0 286.6 L71.0 286.6 L72.0 286.6 L73.0 286.6 L74.0 286.6 L75.0 286.6 L76.0 286.6 L77.0 286.6 L78.0 286.6 L79.0 286.5 L80.0 286.5 L81.0 286.5 L82.0 286.5 L83.0 286.5 L84.0 286.5 L85.0 286.5 L86.0 286.4 L87.0 286.4 L88.0 286.4 L89.0 286.4 L90.0 286.4 L91.0 286.3 L92.0 286.3 L93.0 286.3 L94.0 286.3 L95.0 286.2 L96.0 286.2 L97.0 286.2 L98.0 286.2 L99.0 286.1 L100.0 286.1 L101.0 286.1 L102.0 286.0 L103.0 286.0 L104.0 286.0 L105.0 286.0 L106.0 285.9 L107.0 285.9 L108.0 285.9 L109.0 285.8 L110.0 285.8 L111.0 285.8 L112.0 285.8 L113.0 285.7 L114.0 285.7 L115.0 285.7 L116.0 285.6 L117.0 285.6 L118.0 285.6 L119.0 285.5 L120.0 285.5 L121.0 285.5 L122.0 285.4 L123.0 285.4 L124.0 285.3 L125.0 285.3 L126.0 285.2 L127.0 285.2 L128.0 285.2 L129.0 285.1 L130.0 285.1 L131.0 285.0 L132.0 285.0 L133.0 284.9 L134.0 284.8 L135.0 284.8 L136.0 284.7 L137.0 284.7 L138.0 284.6 L139.0 284.5 L140.0 284.5 L141.0 284.4 L142.0 284.3 L143.0 284.2 L144.0 284.1 L145.0 284.1 L146.0 284.0 L147.0 283.9 L148.0 283.8 L149.0 283.7 L150.0 283.6 L151.0 283.5 L152.0 283.4 L153.0 283.3 L154.0 283.2 L155.0 283.1 L156.0 283.0 L157.0 282.9 L158.0 282.8 L159.0 282.7 L160.0 282.6 L161.0 282.5 L162.0 282.4 L163.0 282.3 L164.0 282.2 L165.0 282.1 L166.0 282.0 L167.0 281.9 L168.0 281.8 L169.0 281.7 L170.0 281.6 L171.0 281.5 L172.0 281.4 L173.0 281.3 L174.0 281.2 L175.0 281.1 L176.0 281.0 L177.0 280.9 L178.0 280.8 L179.0 280.7 L180.0 280.6 L181.0 280.5 L182.0 280.4 L183.0 280.3 L184.0 280.2 L185.0 280.1 L186.0 280.0 L187.0 279.9 L188.0 279.8 L189.0 279.7 L190.0 279.6 L191.0 279.5 L192.0 279.4 L193.0 279.4 L194.0 279.3 L195.0 279.3 L196.0 279.3 L197.0 279.2 L198.0 279.2 L199.0 279.2 L200.0 279.2 L201.0 279.2 L202.0 279.2 L203.0 279.2 L204.0 279.2 L205.0 279.2 L206.0 279.1 L207.0 279.1 L208.0 279.0 L209.0 279.0 L210.0 278.9 L211.0 278.8 L212.0 278.7 L213.0 278.6 L214.0 278.4 L215.0 278.2 L216.0 278.0 L217.0 277.8 L218.0 277.6 L219.0 277.4 L220.0 277.1 L221.0 276.8 L222.0 276.5 L223.0 276.2 L224.0 275.9 L225.0 275.6 L226.0 275.3 L227.0 275.0 L228.0 274.7 L229.0 274.4 L230.0 274.1 L231.0 273.8 L232.0 273.6 L233.0 273.3 L234.0 273.1 L235.0 272.8 L236.0 272.6 L237.0 272.3 L238.0 272.1 L239.0 271.9 L240.0 271.7 L241.0 271.5 L242.0 271.3 L243.0 271.2 L244.0 271.0 L245.0 270.8 L246.0 270.7 L247.0 270.6 L248.0 270.4 L249.0 270.3 L250.0 270.1 L251.0 270.0 L252.0 269.8 L253.0 269.6 L254.0 269.5 L255.0 269.3 L256.0 269.1 L257.0 268.9 L258.0 268.7 L259.0 268.6 L260.0 268.4 L261.0 268.2 L262.0 268.0 L263.0 267.8 L264.0 267.6 L265.0 267.5 L266.0 267.3 L267.0 267.1 L268.0 266.9 L269.0 266.8 L270.0 266.6 L271.0 266.4 L272.0 266.2 L273.0 266.1 L274.0 265.9 L275.0 265.7 L276.0 265.6 L277.0 265.4 L278.0 265.2 L279.0 265.1 L280.0 264.9 L281.0 264.7 L282.0 264.6 L283.0 264.4 L284.0 264.3 L285.0 264.1 L286.0 264.0 L287.0 263.8 L288.0 263.7 L289.0 263.5 L290.0 263.4 L291.0 263.3 L292.0 263.2 L293.0 263.0 L294.0 262.9 L295.0 262.8 L296.0 262.7 L297.0 262.6 L298.0 262.5 L299.0 262.4 L300.0 262.3 L301.0 262.3 L302.0 262.2 L303.0 262.1 L304.0 262.0 L305.0 262.0 L306.0 261.9 L307.0 261.9 L308.0 261.8 L309.0 261.7 L310.0 261.7 L311.0 261.6 L312.0 261.6 L313.0 261.5 L314.0 261.5 L315.0 261.5 L316.0 261.4 L317.0 261.4 L318.0 261.3 L319.0 261.3 L320.0 261.3 L321.0 261.2 L322.0 261.2 L323.0 261.2 L324.0 261.2 L325.0 261.1 L326.0 261.1 L327.0 261.1 L328.0 261.1 L329.0 261.1 L330.0 261.0 L331.0 261.0 L332.0 261.0 L333.0 261.0 L334.0 261.0 L335.0 261.0 L336.0 261.0 L337.0 261.0 L338.0 261.0 L339.0 261.0 L340.0 261.0 L341.0 261.0 L342.0 261.0 L343.0 261.0 L344.0 261.0 L345.0 261.0 L346.0 261.1 L347.0 261.1 L348.0 261.1 L349.0 261.1 L350.0 261.1 L351.0 261.1 L352.0 261.1 L353.0 261.2 L354.0 261.2 L355.0 261.2 L356.0 261.2 L357.0 261.3 L358.0 261.3 L359.0 261.3 L360.0 261.4 L361.0 261.4 L362.0 261.5 L363.0 261.5 L364.0 261.5 L365.0 261.6 L366.0 261.7 L367.0 261.7 L368.0 261.8 L369.0 261.8 L370.0 261.9 L371.0 262.0 L372.0 262.1 L373.0 262.1 L374.0 262.2 L375.0 262.3 L376.0 262.4 L377.0 262.4 L378.0 262.5 L379.0 262.6 L380.0 262.7 L381.0 262.8 L382.0 262.8 L383.0 262.9 L384.0 263.0 L385.0 263.1 L386.0 263.2 L387.0 263.2 L388.0 263.3 L389.0 263.4 L390.0 263.5 L391.0 263.6 L392.0 263.7 L393.0 263.8 L394.0 263.8 L395.0 263.9 L396.0 264.0 L397.0 264.1 L398.0 264.2 L399.0 264.3 L400.0 264.4 L401.0 264.5 L402.0 264.5 L403.0 264.6 L404.0 264.7 L405.0 264.8 L406.0 264.9 L407.0 265.0 L408.0 265.1 L409.0 265.2 L410.0 265.3 L411.0 265.4 L412.0 265.5 L413.0 265.6 L414.0 265.7 L415.0 265.8 L416.0 265.9 L417.0 266.0 L418.0 266.1 L419.0 266.2 L420.0 266.3 L421.0 266.4 L422.0 266.6 L423.0 266.7 L424.0 266.8 L425.0 266.9 L426.0 267.0 L427.0 267.2 L428.0 267.3 L429.0 267.4 L430.0 267.5 L431.0 267.6 L432.0 267.8 L433.0 267.9 L434.0 268.0 L435.0 268.1 L436.0 268.2 L437.0 268.3 L438.0 268.5 L439.0 268.6 L440.0 268.7 L441.0 268.8 L442.0 268.9 L443.0 269.0 L444.0 269.1 L445.0 269.2 L446.0 269.3 L447.0 269.4 L448.0 269.5 L449.0 269.6 L450.0 269.7 L451.0 269.8 L452.0 269.9 L453.0 270.0 L454.0 270.1 L455.0 270.2 L456.0 270.3 L457.0 270.4 L458.0 270.5 L459.0 270.6 L460.0 270.7 L461.0 270.8 L462.0 270.9 L463.0 271.0 L464.0 271.1 L465.0 271.2 L466.0 271.3 L467.0 271.4 L468.0 271.5 L469.0 271.5 L470.0 271.6 L471.0 271.7 L472.0 271.8 L473.0 271.9 L474.0 272.0 L475.0 272.0 L476.0 272.1 L477.0 272.2 L478.0 272.3 L479.0 272.3 L480.0 272.4 L481.0 272.5 L482.0 272.5 L483.0 272.6 L484.0 272.7 L485.0 272.7 L486.0 272.8 L487.0 272.9 L488.0 272.9 L489.0 273.0 L490.0 273.1 L491.0 273.1 L492.0 273.2 L493.0 273.2 L494.0 273.2 L495.0 273.3 L496.0 273.3 L497.0 273.3 L498.0 273.3 L499.0 273.4 L500.0 273.4 L501.0 273.4 L502.0 273.5 L503.0 273.5 L504.0 273.6 L505.0 273.6 L506.0 273.7 L507.0 273.7 L508.0 273.8 L509.0 273.8 L510.0 273.9 L511.0 274.0 L512.0 274.1 L513.0 274.2 L514.0 274.3 L515.0 274.3 L516.0 274.4 L517.0 274.5 L518.0 274.6 L519.0 274.7 L520.0 274.8 L521.0 274.9 L522.0 275.1 L523.0 275.2 L524.0 275.3 L525.0 275.4 L526.0 275.6 L527.0 275.7 L528.0 275.8 L529.0 276.0 L530.0 276.2 L531.0 276.3 L532.0 276.5 L533.0 276.7 L534.0 276.9 L535.0 277.1 L536.0 277.3 L537.0 277.5 L538.0 277.7 L539.0 277.9 L540.0 278.1 L541.0 278.3 L542.0 278.5 L543.0 278.8 L544.0 279.0 L545.0 279.3 L546.0 279.5 L547.0 279.8 L548.0 280.1 L549.0 280.4 L550.0 280.7 L551.0 281.0 L552.0 281.3 L553.0 281.6 L554.0 281.9 L555.0 282.2 L556.0 282.6 L557.0 282.9 L558.0 283.2 L559.0 283.6 L560.0 284.0 L561.0 284.3 L562.0 284.7 L563.0 285.1 L564.0 285.5 L565.0 286.0 L566.0 286.4 L567.0 286.9 L568.0 287.3 L569.0 287.8 L570.0 288.3 L571.0 288.8 L572.0 289.3 L573.0 289.8 L574.0 290.3 L575.0 290.9 L576.0 291.4 L577.0 292.0 L578.0 292.6 L579.0 293.1 L580.0 293.7 L581.0 294.3 L582.0 295.0 L583.0 295.6 L584.0 296.2 L585.0 296.9 L586.0 297.5 L587.0 298.2 L588.0 298.9 L589.0 299.6 L590.0 300.3 L591.0 301.0 L592.0 301.7 L593.0 302.4 L594.0 303.1 L595.0 303.9 L596.0 304.6 L597.0 305.4 L598.0 306.1 L599.0 306.9 L600.0 307.7 L601.0 308.4 L602.0 309.2 L603.0 310.0 L604.0 310.8 L605.0 311.6 L606.0 312.4 L607.0 313.2 L608.0 314.1 L609.0 314.9 L610.0 315.7 L611.0 316.6 L612.0 317.5 L613.0 318.4 L614.0 319.4 L615.0 320.3 L616.0 321.3 L617.0 322.3 L618.0 323.3 L619.0 324.4 L620.0 325.4 L621.0 326.5 L622.0 327.6 L623.0 328.7 L624.0 329.8 L625.0 330.9 L626.0 332.1 L627.0 333.3 L628.0 334.4 L629.0 335.6 L630.0 336.8 L631.0 338.0 L632.0 339.1 L633.0 340.3 L634.0 341.5 L635.0 342.7 L636.0 343.9 L637.0 345.0 L638.0 346.2 L639.0 347.4 L640.0 348.6 L641.0 349.8 L642.0 351.0 L643.0 352.2 L644.0 353.4 L645.0 354.6 L646.0 355.8 L647.0 357.0 L648.0 358.2 L649.0 359.4 L650.0 360.6 L651.0 361.8 L652.0 363.0 L653.0 364.2 L654.0 365.4 L655.0 366.6 L656.0 367.8 L657.0 369.0 L658.0 370.1 L659.0 371.3 L660.0 372.4 L661.0 373.6 L662.0 374.7 L663.0 375.8 L664.0 376.9 L665.0 378.0 L666.0 379.1 L667.0 380.2 L668.0 381.2 L669.0 382.2 L670.0 383.1 L671.0 383.8 L672.0 384.5 L673.0 385.2 L674.0 385.8 L674.5 386.1" fill="none" stroke="#969696" stroke-width="2.35" stroke-dasharray="1.85 2.15" stroke-linejoin="round"/>
<path d="M65.0 281.8 L66.0 281.7 L67.0 281.6 L68.0 281.5 L69.0 281.4 L70.0 281.4 L71.0 281.3 L72.0 281.2 L73.0 281.1 L74.0 281.0 L75.0 280.8 L76.0 280.7 L77.0 280.6 L78.0 280.5 L79.0 280.4 L80.0 280.3 L81.0 280.1 L82.0 280.0 L83.0 279.9 L84.0 279.7 L85.0 279.6 L86.0 279.4 L87.0 279.3 L88.0 279.1 L89.0 279.0 L90.0 278.8 L91.0 278.7 L92.0 278.5 L93.0 278.3 L94.0 278.2 L95.0 278.0 L96.0 277.9 L97.0 277.7 L98.0 277.6 L99.0 277.4 L100.0 277.2 L101.0 277.1 L102.0 276.9 L103.0 276.7 L104.0 276.6 L105.0 276.4 L106.0 276.2 L107.0 276.1 L108.0 275.9 L109.0 275.7 L110.0 275.5 L111.0 275.4 L112.0 275.2 L113.0 275.0 L114.0 274.8 L115.0 274.6 L116.0 274.5 L117.0 274.3 L118.0 274.1 L119.0 273.9 L120.0 273.8 L121.0 273.6 L122.0 273.4 L123.0 273.2 L124.0 273.0 L125.0 272.9 L126.0 272.7 L127.0 272.5 L128.0 272.3 L129.0 272.2 L130.0 272.0 L131.0 271.8 L132.0 271.6 L133.0 271.4 L134.0 271.3 L135.0 271.1 L136.0 270.9 L137.0 270.7 L138.0 270.6 L139.0 270.4 L140.0 270.2 L141.0 270.0 L142.0 269.9 L143.0 269.7 L144.0 269.5 L145.0 269.4 L146.0 269.2 L147.0 269.0 L148.0 268.8 L149.0 268.7 L150.0 268.5 L151.0 268.3 L152.0 268.1 L153.0 268.0 L154.0 267.8 L155.0 267.6 L156.0 267.5 L157.0 267.3 L158.0 267.1 L159.0 267.0 L160.0 266.8 L161.0 266.6 L162.0 266.5 L163.0 266.3 L164.0 266.2 L165.0 266.0 L166.0 265.9 L167.0 265.8 L168.0 265.6 L169.0 265.5 L170.0 265.4 L171.0 265.3 L172.0 265.2 L173.0 265.1 L174.0 265.0 L175.0 264.9 L176.0 264.8 L177.0 264.8 L178.0 264.7 L179.0 264.7 L180.0 264.6 L181.0 264.6 L182.0 264.6 L183.0 264.5 L184.0 264.5 L185.0 264.5 L186.0 264.5 L187.0 264.5 L188.0 264.5 L189.0 264.5 L190.0 264.6 L191.0 264.6 L192.0 264.6 L193.0 264.6 L194.0 264.7 L195.0 264.7 L196.0 264.7 L197.0 264.8 L198.0 264.8 L199.0 264.9 L200.0 264.9 L201.0 265.0 L202.0 265.0 L203.0 265.1 L204.0 265.2 L205.0 265.3 L206.0 265.4 L207.0 265.5 L208.0 265.6 L209.0 265.7 L210.0 265.9 L211.0 266.0 L212.0 266.1 L213.0 266.2 L214.0 266.4 L215.0 266.5 L216.0 266.6 L217.0 266.8 L218.0 266.9 L219.0 267.0 L220.0 267.1 L221.0 267.2 L222.0 267.4 L223.0 267.5 L224.0 267.7 L225.0 267.8 L226.0 268.1 L227.0 268.3 L228.0 268.6 L229.0 268.9 L230.0 269.2 L231.0 269.6 L232.0 269.9 L233.0 270.3 L234.0 270.7 L235.0 271.1 L236.0 271.5 L237.0 271.9 L238.0 272.3 L239.0 272.7 L240.0 273.1 L241.0 273.5 L242.0 273.9 L243.0 274.3 L244.0 274.7 L245.0 275.1 L246.0 275.5 L247.0 275.9 L248.0 276.3 L249.0 276.7 L250.0 277.1 L251.0 277.5 L252.0 277.9 L253.0 278.3 L254.0 278.7 L255.0 279.2 L256.0 279.6 L257.0 280.0 L258.0 280.5 L259.0 280.9 L260.0 281.4 L261.0 281.9 L262.0 282.3 L263.0 282.8 L264.0 283.3 L265.0 283.7 L266.0 284.1 L267.0 284.6 L268.0 285.0 L269.0 285.4 L270.0 285.8 L271.0 286.2 L272.0 286.6 L273.0 287.0 L274.0 287.3 L275.0 287.7 L276.0 288.1 L277.0 288.5 L278.0 288.9 L279.0 289.3 L280.0 289.7 L281.0 290.1 L282.0 290.5 L283.0 290.9 L284.0 291.3 L285.0 291.7 L286.0 292.1 L287.0 292.5 L288.0 292.9 L289.0 293.3 L290.0 293.7 L291.0 294.1 L292.0 294.5 L293.0 295.0 L294.0 295.4 L295.0 295.8 L296.0 296.3 L297.0 296.7 L298.0 297.2 L299.0 297.7 L300.0 298.2 L301.0 298.7 L302.0 299.2 L303.0 299.7 L304.0 300.2 L305.0 300.8 L306.0 301.3 L307.0 301.8 L308.0 302.4 L309.0 302.9 L310.0 303.5 L311.0 304.0 L312.0 304.6 L313.0 305.1 L314.0 305.6 L315.0 306.2 L316.0 306.7 L317.0 307.3 L318.0 307.8 L319.0 308.3 L320.0 308.9 L321.0 309.4 L322.0 310.0 L323.0 310.5 L324.0 311.0 L325.0 311.6 L326.0 312.1 L327.0 312.7 L328.0 313.2 L329.0 313.8 L330.0 314.3 L331.0 314.9 L332.0 315.5 L333.0 316.0 L334.0 316.6 L335.0 317.2 L336.0 317.8 L337.0 318.4 L338.0 319.0 L339.0 319.6 L340.0 320.2 L341.0 320.9 L342.0 321.5 L343.0 322.1 L344.0 322.8 L345.0 323.4 L346.0 324.0 L347.0 324.7 L348.0 325.3 L349.0 326.0 L350.0 326.6 L351.0 327.2 L352.0 327.9 L353.0 328.5 L354.0 329.1 L355.0 329.8 L356.0 330.4 L357.0 331.1 L358.0 331.7 L359.0 332.4 L360.0 333.1 L361.0 333.8 L362.0 334.5 L363.0 335.2 L364.0 335.9 L365.0 336.6 L366.0 337.3 L367.0 338.1 L368.0 338.9 L369.0 339.7 L370.0 340.5 L371.0 341.3 L372.0 342.2 L373.0 343.1 L374.0 344.0 L375.0 345.0 L376.0 346.0 L377.0 347.0 L378.0 348.1 L379.0 349.1 L380.0 350.2 L381.0 351.2 L382.0 352.3 L383.0 353.4 L384.0 354.5 L385.0 355.5 L386.0 356.6 L387.0 357.7 L388.0 358.8 L389.0 359.9 L390.0 361.1 L391.0 362.2 L392.0 363.4 L393.0 364.5 L394.0 365.6 L395.0 366.7 L396.0 367.8 L397.0 368.8 L398.0 369.8 L399.0 370.8 L400.0 371.7 L401.0 372.6 L402.0 373.4 L403.0 374.3 L404.0 375.1 L405.0 375.9 L406.0 376.7 L407.0 377.5 L408.0 378.3 L409.0 379.0 L410.0 379.7 L411.0 380.3 L412.0 380.9 L413.0 381.5 L414.0 382.0 L415.0 382.4 L416.0 382.7 L417.0 382.9 L418.0 383.0 L419.0 383.0 L420.0 383.0 L421.0 382.9 L422.0 382.8 L423.0 382.6 L424.0 382.4 L425.0 382.0 L426.0 381.6 L427.0 381.1 L428.0 380.5 L429.0 379.9 L430.0 379.3 L431.0 378.7 L432.0 378.0 L433.0 377.4 L434.0 376.7 L435.0 375.9 L436.0 375.2 L437.0 374.4 L438.0 373.6 L439.0 372.8 L440.0 372.0 L441.0 371.1 L442.0 370.2 L443.0 369.3 L444.0 368.3 L445.0 367.4 L446.0 366.4 L447.0 365.5 L448.0 364.5 L449.0 363.6 L450.0 362.8 L451.0 361.9 L452.0 361.2 L453.0 360.4 L454.0 359.7 L455.0 359.0 L456.0 358.4 L457.0 357.7 L458.0 357.1 L459.0 356.5 L460.0 355.9 L461.0 355.4 L462.0 354.9 L463.0 354.4 L464.0 353.9 L465.0 353.4 L466.0 353.0 L467.0 352.6 L468.0 352.1 L469.0 351.7 L470.0 351.3 L471.0 350.9 L472.0 350.5 L473.0 350.1 L474.0 349.8 L475.0 349.5 L476.0 349.1 L477.0 348.9 L478.0 348.6 L479.0 348.3 L480.0 348.0 L481.0 347.7 L482.0 347.5 L483.0 347.2 L484.0 346.9 L485.0 346.7 L486.0 346.5 L487.0 346.2 L488.0 346.0 L489.0 345.8 L490.0 345.6 L491.0 345.4 L492.0 345.2 L493.0 344.9 L494.0 344.7 L495.0 344.5 L496.0 344.4 L497.0 344.2 L498.0 344.0 L499.0 343.8 L500.0 343.7 L501.0 343.5 L502.0 343.4 L503.0 343.3 L504.0 343.2 L505.0 343.0 L506.0 342.9 L507.0 342.8 L508.0 342.7 L509.0 342.6 L510.0 342.5 L511.0 342.4 L512.0 342.3 L513.0 342.2 L514.0 342.1 L515.0 342.0 L516.0 341.9 L517.0 341.8 L518.0 341.7 L519.0 341.6 L520.0 341.5 L521.0 341.4 L522.0 341.3 L523.0 341.2 L524.0 341.1 L525.0 341.0 L526.0 341.0 L527.0 340.9 L528.0 340.8 L529.0 340.7 L530.0 340.7 L531.0 340.6 L532.0 340.6 L533.0 340.5 L534.0 340.5 L535.0 340.4 L536.0 340.4 L537.0 340.3 L538.0 340.3 L539.0 340.2 L540.0 340.2 L541.0 340.2 L542.0 340.2 L543.0 340.1 L544.0 340.1 L545.0 340.1 L546.0 340.1 L547.0 340.0 L548.0 340.0 L549.0 340.0 L550.0 340.0 L551.0 340.0 L552.0 340.0 L553.0 339.9 L554.0 339.9 L555.0 339.9 L556.0 339.9 L557.0 339.9 L558.0 339.9 L559.0 339.9 L560.0 339.9 L561.0 339.9 L562.0 339.9 L563.0 339.9 L564.0 339.9 L565.0 339.9 L566.0 339.8 L567.0 339.8 L568.0 339.8 L569.0 339.8 L570.0 339.8 L571.0 339.8 L572.0 339.8 L573.0 339.9 L574.0 339.9 L575.0 339.9 L576.0 339.9 L577.0 339.9 L578.0 339.9 L579.0 339.9 L580.0 339.9 L581.0 339.9 L582.0 339.9 L583.0 339.9 L584.0 339.9 L585.0 340.0 L586.0 340.0 L587.0 340.0 L588.0 340.0 L589.0 340.1 L590.0 340.1 L591.0 340.1 L592.0 340.2 L593.0 340.2 L594.0 340.3 L595.0 340.3 L596.0 340.4 L597.0 340.4 L598.0 340.5 L599.0 340.5 L600.0 340.6 L601.0 340.7 L602.0 340.8 L603.0 340.8 L604.0 340.9 L605.0 341.0 L606.0 341.1 L607.0 341.3 L608.0 341.4 L609.0 341.5 L610.0 341.6 L611.0 341.8 L612.0 341.9 L613.0 342.0 L614.0 342.2 L615.0 342.3 L616.0 342.5 L617.0 342.6 L618.0 342.8 L619.0 342.9 L620.0 343.1 L621.0 343.3 L622.0 343.4 L623.0 343.6 L624.0 343.8 L625.0 343.9 L626.0 344.1 L627.0 344.3 L628.0 344.5 L629.0 344.7 L630.0 344.9 L631.0 345.1 L632.0 345.3 L633.0 345.5 L634.0 345.7 L635.0 345.9 L636.0 346.2 L637.0 346.4 L638.0 346.6 L639.0 346.9 L640.0 347.1 L641.0 347.4 L642.0 347.6 L643.0 347.9 L644.0 348.2 L645.0 348.5 L646.0 348.8 L647.0 349.1 L648.0 349.5 L649.0 349.8 L650.0 350.2 L651.0 350.6 L652.0 350.9 L653.0 351.3 L654.0 351.7 L655.0 352.1 L656.0 352.5 L657.0 352.9 L658.0 353.4 L659.0 353.9 L660.0 354.3 L661.0 354.9 L662.0 355.4 L663.0 355.9 L664.0 356.5 L665.0 357.1 L666.0 357.7 L667.0 358.4 L668.0 359.0 L669.0 359.7 L670.0 360.4 L671.0 361.1 L672.0 361.9 L673.0 362.6 L674.0 363.4 L674.5 363.8" fill="none" stroke="#000" stroke-width="2.7" stroke-linejoin="round"/>
<path d="M65.0 293.5 L66.0 293.6 L67.0 293.7 L68.0 293.8 L69.0 293.8 L70.0 293.9 L71.0 294.0 L72.0 294.0 L73.0 294.1 L74.0 294.2 L75.0 294.2 L76.0 294.3 L77.0 294.3 L78.0 294.4 L79.0 294.4 L80.0 294.5 L81.0 294.5 L82.0 294.5 L83.0 294.6 L84.0 294.6 L85.0 294.6 L86.0 294.6 L87.0 294.6 L88.0 294.7 L89.0 294.7 L90.0 294.7 L91.0 294.7 L92.0 294.7 L93.0 294.7 L94.0 294.7 L95.0 294.7 L96.0 294.6 L97.0 294.6 L98.0 294.6 L99.0 294.6 L100.0 294.6 L101.0 294.5 L102.0 294.5 L103.0 294.5 L104.0 294.4 L105.0 294.4 L106.0 294.4 L107.0 294.3 L108.0 294.3 L109.0 294.2 L110.0 294.2 L111.0 294.1 L112.0 294.1 L113.0 294.0 L114.0 294.0 L115.0 293.9 L116.0 293.9 L117.0 293.8 L118.0 293.7 L119.0 293.6 L120.0 293.6 L121.0 293.5 L122.0 293.4 L123.0 293.3 L124.0 293.2 L125.0 293.1 L126.0 293.0 L127.0 292.9 L128.0 292.7 L129.0 292.6 L130.0 292.5 L131.0 292.3 L132.0 292.1 L133.0 292.0 L134.0 291.8 L135.0 291.6 L136.0 291.4 L137.0 291.2 L138.0 291.0 L139.0 290.8 L140.0 290.5 L141.0 290.3 L142.0 290.1 L143.0 289.9 L144.0 289.7 L145.0 289.4 L146.0 289.2 L147.0 289.0 L148.0 288.8 L149.0 288.5 L150.0 288.3 L151.0 288.1 L152.0 287.9 L153.0 287.7 L154.0 287.4 L155.0 287.2 L156.0 287.0 L157.0 286.7 L158.0 286.5 L159.0 286.2 L160.0 285.9 L161.0 285.6 L162.0 285.3 L163.0 284.9 L164.0 284.5 L165.0 284.1 L166.0 283.7 L167.0 283.2 L168.0 282.8 L169.0 282.3 L170.0 281.9 L171.0 281.5 L172.0 281.1 L173.0 280.7 L174.0 280.4 L175.0 280.1 L176.0 279.8 L177.0 279.5 L178.0 279.2 L179.0 278.8 L180.0 278.5 L181.0 278.1 L182.0 277.8 L183.0 277.4 L184.0 277.0 L185.0 276.6 L186.0 276.2 L187.0 275.8 L188.0 275.4 L189.0 275.0 L190.0 274.7 L191.0 274.3 L192.0 273.9 L193.0 273.6 L194.0 273.2 L195.0 272.8 L196.0 272.5 L197.0 272.1 L198.0 271.8 L199.0 271.4 L200.0 271.1 L201.0 270.7 L202.0 270.4 L203.0 270.0 L204.0 269.7 L205.0 269.3 L206.0 269.0 L207.0 268.7 L208.0 268.3 L209.0 268.0 L210.0 267.7 L211.0 267.4 L212.0 267.0 L213.0 266.7 L214.0 266.4 L215.0 266.1 L216.0 265.8 L217.0 265.5 L218.0 265.1 L219.0 264.8 L220.0 264.5 L221.0 264.2 L222.0 263.9 L223.0 263.6 L224.0 263.3 L225.0 263.1 L226.0 262.8 L227.0 262.6 L228.0 262.3 L229.0 262.1 L230.0 261.9 L231.0 261.7 L232.0 261.6 L233.0 261.4 L234.0 261.3 L235.0 261.2 L236.0 261.1 L237.0 261.1 L238.0 261.0 L239.0 260.9 L240.0 260.9 L241.0 260.8 L242.0 260.8 L243.0 260.7 L244.0 260.7 L245.0 260.6 L246.0 260.6 L247.0 260.6 L248.0 260.5 L249.0 260.5 L250.0 260.5 L251.0 260.5 L252.0 260.5 L253.0 260.5 L254.0 260.5 L255.0 260.5 L256.0 260.5 L257.0 260.6 L258.0 260.6 L259.0 260.7 L260.0 260.7 L261.0 260.8 L262.0 260.9 L263.0 261.0 L264.0 261.1 L265.0 261.2 L266.0 261.3 L267.0 261.4 L268.0 261.5 L269.0 261.7 L270.0 261.8 L271.0 261.9 L272.0 262.0 L273.0 262.1 L274.0 262.3 L275.0 262.4 L276.0 262.5 L277.0 262.6 L278.0 262.8 L279.0 262.9 L280.0 263.0 L281.0 263.1 L282.0 263.2 L283.0 263.3 L284.0 263.4 L285.0 263.5 L286.0 263.6 L287.0 263.7 L288.0 263.8 L289.0 263.9 L290.0 264.0 L291.0 264.1 L292.0 264.2 L293.0 264.3 L294.0 264.4 L295.0 264.6 L296.0 264.7 L297.0 264.8 L298.0 265.0 L299.0 265.1 L300.0 265.3 L301.0 265.4 L302.0 265.6 L303.0 265.7 L304.0 265.8 L305.0 266.0 L306.0 266.1 L307.0 266.2 L308.0 266.3 L309.0 266.4 L310.0 266.5 L311.0 266.6 L312.0 266.8 L313.0 266.9 L314.0 267.0 L315.0 267.1 L316.0 267.2 L317.0 267.4 L318.0 267.5 L319.0 267.6 L320.0 267.8 L321.0 267.9 L322.0 268.1 L323.0 268.3 L324.0 268.4 L325.0 268.6 L326.0 268.8 L327.0 268.9 L328.0 269.1 L329.0 269.3 L330.0 269.4 L331.0 269.6 L332.0 269.8 L333.0 269.9 L334.0 270.1 L335.0 270.2 L336.0 270.4 L337.0 270.5 L338.0 270.7 L339.0 270.8 L340.0 270.9 L341.0 271.0 L342.0 271.1 L343.0 271.2 L344.0 271.3 L345.0 271.4 L346.0 271.5 L347.0 271.5 L348.0 271.6 L349.0 271.7 L350.0 271.8 L351.0 271.8 L352.0 271.9 L353.0 271.9 L354.0 272.0 L355.0 272.1 L356.0 272.1 L357.0 272.2 L358.0 272.2 L359.0 272.3 L360.0 272.3 L361.0 272.4 L362.0 272.5 L363.0 272.5 L364.0 272.6 L365.0 272.6 L366.0 272.7 L367.0 272.8 L368.0 272.9 L369.0 272.9 L370.0 273.0 L371.0 273.1 L372.0 273.2 L373.0 273.3 L374.0 273.4 L375.0 273.4 L376.0 273.5 L377.0 273.6 L378.0 273.7 L379.0 273.8 L380.0 273.9 L381.0 274.0 L382.0 274.1 L383.0 274.2 L384.0 274.3 L385.0 274.4 L386.0 274.5 L387.0 274.7 L388.0 274.8 L389.0 274.9 L390.0 275.0 L391.0 275.1 L392.0 275.3 L393.0 275.4 L394.0 275.5 L395.0 275.7 L396.0 275.8 L397.0 276.0 L398.0 276.2 L399.0 276.3 L400.0 276.6 L401.0 276.8 L402.0 277.0 L403.0 277.3 L404.0 277.5 L405.0 277.8 L406.0 278.0 L407.0 278.3 L408.0 278.6 L409.0 278.9 L410.0 279.2 L411.0 279.5 L412.0 279.8 L413.0 280.1 L414.0 280.4 L415.0 280.7 L416.0 281.0 L417.0 281.3 L418.0 281.7 L419.0 282.0 L420.0 282.4 L421.0 282.8 L422.0 283.1 L423.0 283.5 L424.0 284.0 L425.0 284.4 L426.0 284.8 L427.0 285.3 L428.0 285.8 L429.0 286.3 L430.0 286.8 L431.0 287.3 L432.0 287.9 L433.0 288.4 L434.0 289.0 L435.0 289.6 L436.0 290.2 L437.0 290.8 L438.0 291.4 L439.0 292.0 L440.0 292.6 L441.0 293.3 L442.0 293.9 L443.0 294.6 L444.0 295.2 L445.0 295.9 L446.0 296.6 L447.0 297.2 L448.0 298.0 L449.0 298.7 L450.0 299.5 L451.0 300.2 L452.0 301.0 L453.0 301.9 L454.0 302.7 L455.0 303.5 L456.0 304.4 L457.0 305.3 L458.0 306.1 L459.0 307.0 L460.0 307.9 L461.0 308.8 L462.0 309.7 L463.0 310.7 L464.0 311.6 L465.0 312.5 L466.0 313.5 L467.0 314.4 L468.0 315.4 L469.0 316.3 L470.0 317.3 L471.0 318.2 L472.0 319.2 L473.0 320.1 L474.0 321.1 L475.0 322.0 L476.0 323.0 L477.0 323.9 L478.0 324.9 L479.0 325.8 L480.0 326.7 L481.0 327.7 L482.0 328.6 L483.0 329.5 L484.0 330.5 L485.0 331.4 L486.0 332.3 L487.0 333.2 L488.0 334.2 L489.0 335.1 L490.0 336.0 L491.0 336.9 L492.0 337.8 L493.0 338.8 L494.0 339.7 L495.0 340.6 L496.0 341.5 L497.0 342.4 L498.0 343.3 L499.0 344.2 L500.0 345.1 L501.0 346.0 L502.0 346.9 L503.0 347.8 L504.0 348.7 L505.0 349.6 L506.0 350.4 L507.0 351.3 L508.0 352.2 L509.0 353.0 L510.0 353.9 L511.0 354.7 L512.0 355.6 L513.0 356.4 L514.0 357.1 L515.0 357.9 L516.0 358.7 L517.0 359.5 L518.0 360.2 L519.0 361.0 L520.0 361.8 L521.0 362.6 L522.0 363.5 L523.0 364.3 L524.0 365.2 L525.0 366.0 L526.0 366.9 L527.0 367.7 L528.0 368.6 L529.0 369.5 L530.0 370.3 L531.0 371.2 L532.0 372.0 L533.0 372.9 L534.0 373.7 L535.0 374.6 L536.0 375.5 L537.0 376.3 L538.0 377.2 L539.0 378.0 L540.0 378.9 L541.0 379.7 L542.0 380.6 L543.0 381.5 L544.0 382.3 L545.0 383.2 L546.0 384.0 L547.0 384.9 L548.0 385.8 L549.0 386.6 L550.0 387.5 L551.0 388.3 L552.0 389.2 L553.0 390.1 L554.0 390.9 L555.0 391.8 L556.0 392.6 L557.0 393.5 L558.0 394.3 L559.0 395.2 L560.0 395.9 L561.0 396.7 L562.0 397.4 L563.0 398.2 L564.0 398.9 L565.0 399.7 L566.0 400.5 L567.0 401.4 L568.0 402.2 L569.0 403.1 L570.0 404.0 L571.0 404.9 L572.0 405.8 L573.0 406.7 L574.0 407.6 L575.0 408.6" fill="none" stroke="#000" stroke-width="2.7" stroke-dasharray="1.85 2.15" stroke-linejoin="round"/>
<path d="M217.50 240.5V399.5" stroke="#e23636" stroke-width="1.8" opacity="0.78" fill="none"/>
</g>
<path d="M65.5 240.50h6M674.5 240.50h-6M65.50 240.5v6M65.50 399.5v-6M65.5 280.25h6M674.5 280.25h-6M217.75 240.5v6M217.75 399.5v-6M65.5 320.00h6M674.5 320.00h-6M370.00 240.5v6M370.00 399.5v-6M65.5 359.75h6M674.5 359.75h-6M522.25 240.5v6M522.25 399.5v-6M65.5 399.50h6M674.5 399.50h-6M674.50 240.5v6M674.50 399.5v-6" stroke="#2a2a2a" stroke-width="1" fill="none"/>
<path d="M65.5 241.0V399.5H674.5V241.0" fill="none" stroke="#222" stroke-width="1.1" stroke-linejoin="miter"/>
<path d="M65.0 241.0H675.0" fill="none" stroke="#484848" stroke-width="1.4"/>
<text transform="translate(58.4 247.6) scale(1.07 1)" text-anchor="end" class="tk">0</text>
<text transform="translate(58.4 287.4) scale(1.07 1)" text-anchor="end" class="tk">-5</text>
<text transform="translate(58.4 327.1) scale(1.07 1)" text-anchor="end" class="tk">-10</text>
<text transform="translate(58.4 366.9) scale(1.07 1)" text-anchor="end" class="tk">-15</text>
<text transform="translate(58.4 406.6) scale(1.07 1)" text-anchor="end" class="tk">-20</text>
<text transform="translate(64.4 423.6) scale(1.07 1)" text-anchor="middle" class="tk">0.5</text>
<text transform="translate(216.7 423.6) scale(1.07 1)" text-anchor="middle" class="tk">1</text>
<text transform="translate(368.9 423.6) scale(1.07 1)" text-anchor="middle" class="tk">1.5</text>
<text transform="translate(521.1 423.6) scale(1.07 1)" text-anchor="middle" class="tk">2</text>
<text transform="translate(672.7 423.6) scale(1.07 1)" text-anchor="middle" class="tk">2.5</text>
<text x="367.5" y="446.7" text-anchor="middle" class="xl">Frequency [GHz]</text>
<g transform="translate(15.6 382.0) rotate(-90)">
<text x="-0.9" y="0.0" class="yl">|</text>
<text x="4.6" y="0.0" class="yl it">S</text>
<text x="16.4" y="9.5" class="sb">21</text>
<text x="32.0" y="0.0" class="yl">|</text>
<text x="36.0" y="0.0" class="yl">,</text>
<text x="44.6" y="0.0" class="yl">|</text>
<text x="51.0" y="0.0" class="yl it">S</text>
<text x="62.4" y="9.5" class="sb">31</text>
<text x="77.9" y="0.0" class="yl">|</text>
<text x="86.5" y="0.0" class="yl">[dB]</text>
</g>
<rect x="582.0" y="332.5" width="81.5" height="57.8" fill="#fff" stroke="#2a2a2a" stroke-width="1"/>
<path d="M585.8 347.6H624.2" stroke="#000" stroke-width="2.7" stroke-dasharray="1.85 2.15" fill="none"/>
<path d="M585.8 375.1H625.5" stroke="#000" stroke-width="2.7" fill="none"/>
<text x="627.4" y="350.2" class="lg">|</text>
<text x="631.6" y="350.2" class="lg it">S</text>
<text x="640.4" y="358.5" class="sb2">21</text>
<text x="654.9" y="350.2" class="lg">|</text>
<text x="627.4" y="377.7" class="lg">|</text>
<text x="631.6" y="377.7" class="lg it">S</text>
<text x="640.4" y="386.0" class="sb2">31</text>
<text x="654.9" y="377.7" class="lg">|</text>
</svg>
</body></html>
